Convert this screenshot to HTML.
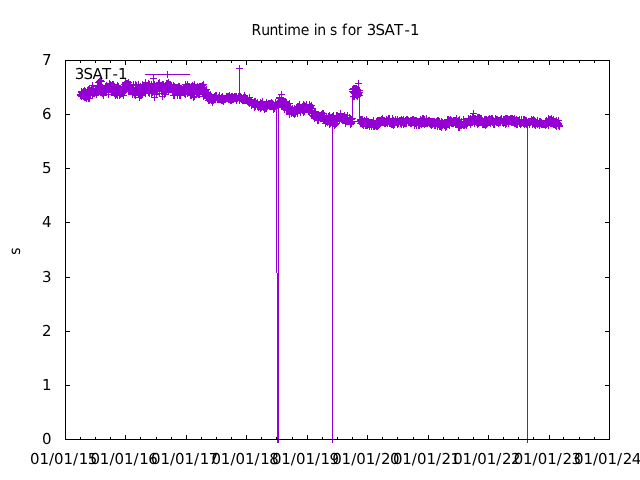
<!DOCTYPE html>
<html><head><meta charset="utf-8"><title>Runtime in s for 3SAT-1</title>
<style>html,body{margin:0;padding:0;background:#fff;overflow:hidden}svg{display:block}</style></head>
<body>
<svg width="640" height="480" viewBox="0 0 640 480">
<rect width="640" height="480" fill="#fff"/>
<g fill="none" stroke="#9400D3" stroke-width="1" shape-rendering="crispEdges">
<polyline points="80.5,95.5 80.5,94.5 80.5,94.5 81.5,92.5 81.5,95.5 81.5,96.5 81.5,91.5 82.5,92.5 82.5,93.5 82.5,95.5 82.5,93.5 83.5,91.5 83.5,96.5 83.5,91.5 83.5,96.5 83.5,94.5 84.5,90.5 84.5,97.5 84.5,91.5 84.5,90.5 85.5,97.5 85.5,91.5 85.5,96.5 85.5,95.5 85.5,93.5 86.5,92.5 86.5,98.5 86.5,94.5 86.5,97.5 87.5,96.5 87.5,96.5 87.5,90.5 87.5,92.5 88.5,91.5 88.5,93.5 88.5,89.5 88.5,89.5 88.5,98.5 89.5,98.5 89.5,89.5 89.5,93.5 89.5,95.5 90.5,90.5 90.5,90.5 90.5,92.5 90.5,94.5 91.5,92.5 91.5,92.5 91.5,91.5 91.5,91.5 91.5,88.5 92.5,95.5 92.5,85.5 92.5,92.5 92.5,94.5 93.5,93.5 93.5,90.5 93.5,91.5 93.5,89.5 93.5,89.5 94.5,91.5 94.5,92.5 94.5,93.5 94.5,93.5 95.5,89.5 95.5,91.5 95.5,92.5 95.5,92.5 96.5,89.5 96.5,88.5 96.5,89.5 96.5,91.5 96.5,94.5 97.5,89.5 97.5,89.5 97.5,92.5 97.5,86.5 98.5,90.5 98.5,92.5 98.5,92.5 98.5,88.5 98.5,82.5 99.5,88.5 99.5,89.5 99.5,81.5 99.5,89.5 100.5,90.5 100.5,91.5 100.5,80.5 100.5,90.5 101.5,88.5 101.5,92.5 101.5,81.5 101.5,85.5 101.5,87.5 102.5,93.5 102.5,93.5 102.5,87.5 102.5,90.5 103.5,89.5 103.5,95.5 103.5,92.5 103.5,94.5 104.5,90.5 104.5,89.5 104.5,88.5 104.5,89.5 104.5,88.5 105.5,91.5 105.5,86.5 105.5,88.5 105.5,90.5 106.5,90.5 106.5,88.5 106.5,85.5 106.5,87.5 106.5,89.5 107.5,86.5 107.5,89.5 107.5,88.5 107.5,89.5 108.5,94.5 108.5,88.5 108.5,92.5 108.5,86.5 109.5,83.5 109.5,85.5 109.5,89.5 109.5,86.5 109.5,86.5 110.5,89.5 110.5,87.5 110.5,84.5 110.5,85.5 111.5,88.5 111.5,92.5 111.5,85.5 111.5,91.5 112.5,85.5 112.5,84.5 112.5,89.5 112.5,91.5 112.5,90.5 113.5,84.5 113.5,89.5 113.5,85.5 113.5,90.5 114.5,86.5 114.5,93.5 114.5,86.5 114.5,92.5 114.5,89.5 115.5,91.5 115.5,94.5 115.5,95.5 115.5,89.5 116.5,94.5 116.5,91.5 116.5,90.5 116.5,92.5 117.5,95.5 117.5,85.5 117.5,89.5 117.5,86.5 117.5,88.5 118.5,89.5 118.5,86.5 118.5,88.5 118.5,88.5 119.5,95.5 119.5,89.5 119.5,91.5 119.5,88.5 120.5,88.5 120.5,94.5 120.5,89.5 120.5,91.5 120.5,93.5 121.5,89.5 121.5,90.5 121.5,93.5 121.5,91.5 122.5,92.5 122.5,90.5 122.5,87.5 122.5,92.5 122.5,93.5 123.5,95.5 123.5,92.5 123.5,88.5 123.5,90.5 124.5,91.5 124.5,88.5 124.5,84.5 124.5,87.5 125.5,83.5 125.5,88.5 125.5,88.5 125.5,82.5 125.5,85.5 126.5,89.5 126.5,86.5 126.5,83.5 126.5,89.5 127.5,86.5 127.5,85.5 127.5,83.5 127.5,86.5 128.5,86.5 128.5,91.5 128.5,89.5 128.5,82.5 128.5,89.5 129.5,91.5 129.5,90.5 129.5,84.5 129.5,86.5 130.5,89.5 130.5,88.5 130.5,90.5 130.5,91.5 130.5,84.5 131.5,89.5 131.5,91.5 131.5,90.5 131.5,88.5 132.5,94.5 132.5,87.5 132.5,89.5 132.5,90.5 133.5,89.5 133.5,90.5 133.5,84.5 133.5,88.5 133.5,91.5 134.5,93.5 134.5,92.5 134.5,90.5 134.5,94.5 135.5,94.5 135.5,88.5 135.5,95.5 135.5,90.5 135.5,84.5 136.5,89.5 136.5,89.5 136.5,89.5 136.5,85.5 137.5,92.5 137.5,87.5 137.5,90.5 137.5,88.5 138.5,94.5 138.5,91.5 138.5,84.5 138.5,88.5 138.5,94.5 139.5,90.5 139.5,92.5 139.5,88.5 139.5,97.5 140.5,95.5 140.5,86.5 140.5,88.5 140.5,87.5 141.5,88.5 141.5,90.5 141.5,89.5 141.5,90.5 141.5,95.5 142.5,84.5 142.5,92.5 142.5,93.5 142.5,88.5 143.5,89.5 143.5,91.5 143.5,91.5 143.5,88.5 143.5,88.5 144.5,91.5 144.5,87.5 144.5,92.5 144.5,87.5 145.5,93.5 145.5,82.5 145.5,88.5 145.5,83.5 146.5,86.5 146.5,86.5 146.5,86.5 146.5,87.5 146.5,89.5 147.5,89.5 147.5,88.5 147.5,90.5 147.5,86.5 148.5,83.5 148.5,87.5 148.5,92.5 148.5,90.5 149.5,84.5 149.5,86.5 149.5,93.5 149.5,86.5 149.5,87.5 150.5,87.5 150.5,90.5 150.5,89.5 150.5,86.5 151.5,90.5 151.5,90.5 151.5,91.5 151.5,84.5 151.5,93.5 152.5,91.5 152.5,92.5 152.5,92.5 152.5,86.5 153.5,89.5 153.5,91.5 153.5,78.5 153.5,84.5 154.5,84.5 154.5,97.5 154.5,89.5 154.5,88.5 154.5,86.5 155.5,88.5 155.5,88.5 155.5,90.5 155.5,89.5 156.5,94.5 156.5,90.5 156.5,88.5 156.5,90.5 157.5,86.5 157.5,85.5 157.5,89.5 157.5,89.5 157.5,86.5 158.5,86.5 158.5,88.5 158.5,84.5 158.5,83.5 159.5,87.5 159.5,93.5 159.5,84.5 159.5,89.5 159.5,82.5 160.5,87.5 160.5,85.5 160.5,86.5 160.5,85.5 161.5,86.5 161.5,88.5 161.5,91.5 161.5,86.5 162.5,84.5 162.5,87.5 162.5,96.5 162.5,89.5 162.5,86.5 163.5,91.5 163.5,84.5 163.5,84.5 163.5,88.5 164.5,86.5 164.5,94.5 164.5,94.5 164.5,86.5 165.5,86.5 165.5,92.5 165.5,89.5 165.5,88.5 165.5,89.5 166.5,90.5 166.5,88.5 166.5,83.5 166.5,89.5 167.5,86.5 167.5,87.5 167.5,86.5 167.5,89.5 167.5,83.5 168.5,86.5 168.5,91.5 168.5,82.5 168.5,88.5 169.5,88.5 169.5,87.5 169.5,84.5 169.5,86.5 170.5,87.5 170.5,86.5 170.5,84.5 170.5,87.5 170.5,84.5 171.5,89.5 171.5,86.5 171.5,86.5 171.5,88.5 172.5,90.5 172.5,92.5 172.5,92.5 172.5,92.5 172.5,89.5 173.5,85.5 173.5,91.5 173.5,91.5 173.5,95.5 174.5,95.5 174.5,88.5 174.5,88.5 174.5,86.5 175.5,87.5 175.5,91.5 175.5,89.5 175.5,87.5 175.5,91.5 176.5,92.5 176.5,87.5 176.5,90.5 176.5,88.5 177.5,95.5 177.5,87.5 177.5,93.5 177.5,90.5 178.5,90.5 178.5,92.5 178.5,86.5 178.5,88.5 178.5,90.5 179.5,93.5 179.5,92.5 179.5,86.5 179.5,95.5 180.5,95.5 180.5,91.5 180.5,88.5 180.5,91.5 180.5,92.5 181.5,92.5 181.5,90.5 181.5,90.5 181.5,88.5 182.5,91.5 182.5,90.5 182.5,91.5 182.5,89.5 183.5,91.5 183.5,89.5 183.5,89.5 183.5,88.5 183.5,90.5 184.5,87.5 184.5,93.5 184.5,89.5 184.5,93.5 185.5,94.5 185.5,87.5 185.5,87.5 185.5,84.5 186.5,86.5 186.5,87.5 186.5,86.5 186.5,90.5 186.5,89.5 187.5,93.5 187.5,89.5 187.5,84.5 187.5,91.5 188.5,87.5 188.5,86.5 188.5,88.5 188.5,92.5 188.5,87.5 189.5,90.5 189.5,86.5 189.5,88.5 189.5,90.5 190.5,95.5 190.5,90.5 190.5,90.5 190.5,91.5 191.5,95.5 191.5,87.5 191.5,90.5 191.5,88.5 191.5,86.5 192.5,94.5 192.5,91.5 192.5,90.5 192.5,85.5 193.5,86.5 193.5,97.5 193.5,88.5 193.5,89.5 194.5,96.5 194.5,93.5 194.5,84.5 194.5,90.5 194.5,88.5 195.5,90.5 195.5,88.5 195.5,91.5 195.5,91.5 196.5,87.5 196.5,91.5 196.5,91.5 196.5,94.5 196.5,93.5 197.5,91.5 197.5,86.5 197.5,93.5 197.5,93.5 198.5,87.5 198.5,89.5 198.5,88.5 198.5,94.5 199.5,93.5 199.5,86.5 199.5,89.5 199.5,94.5 199.5,90.5 200.5,91.5 200.5,91.5 200.5,86.5 200.5,86.5 201.5,86.5 201.5,90.5 201.5,89.5 201.5,88.5 202.5,87.5 202.5,88.5 202.5,85.5 202.5,90.5 202.5,93.5 203.5,89.5 203.5,87.5 203.5,84.5 203.5,96.5 204.5,92.5 204.5,91.5 204.5,91.5 204.5,89.5 204.5,90.5 205.5,90.5 205.5,95.5 205.5,94.5 205.5,94.5 206.5,92.5 206.5,93.5 206.5,89.5 206.5,97.5 207.5,96.5 207.5,94.5 207.5,96.5 207.5,98.5 207.5,98.5 208.5,93.5 208.5,95.5 208.5,95.5 208.5,100.5 209.5,97.5 209.5,96.5 209.5,97.5 209.5,95.5 209.5,100.5 210.5,94.5 210.5,98.5 210.5,96.5 210.5,95.5 211.5,99.5 211.5,100.5 211.5,99.5 211.5,97.5 212.5,97.5 212.5,102.5 212.5,97.5 212.5,99.5 212.5,99.5 213.5,100.5 213.5,98.5 213.5,99.5 213.5,100.5 214.5,98.5 214.5,96.5 214.5,97.5 214.5,97.5 215.5,95.5 215.5,99.5 215.5,98.5 215.5,96.5 215.5,99.5 216.5,97.5 216.5,96.5 216.5,95.5 216.5,97.5 217.5,98.5 217.5,98.5 217.5,99.5 217.5,98.5 217.5,98.5 218.5,99.5 218.5,97.5 218.5,97.5 218.5,99.5 219.5,98.5 219.5,95.5 219.5,99.5 219.5,96.5 220.5,99.5 220.5,98.5 220.5,98.5 220.5,98.5 220.5,99.5 221.5,97.5 221.5,98.5 221.5,99.5 221.5,100.5 222.5,100.5 222.5,96.5 222.5,100.5 222.5,98.5 223.5,98.5 223.5,100.5 223.5,98.5 223.5,101.5 223.5,100.5 224.5,98.5 224.5,98.5 224.5,99.5 224.5,99.5 225.5,99.5 225.5,98.5 225.5,98.5 225.5,98.5 225.5,98.5 226.5,96.5 226.5,97.5 226.5,96.5 226.5,96.5 227.5,96.5 227.5,98.5 227.5,96.5 227.5,98.5 228.5,96.5 228.5,99.5 228.5,96.5 228.5,97.5 228.5,97.5 229.5,99.5 229.5,99.5 229.5,95.5 229.5,98.5 230.5,97.5 230.5,98.5 230.5,99.5 230.5,100.5 231.5,100.5 231.5,96.5 231.5,100.5 231.5,96.5 231.5,100.5 232.5,99.5 232.5,98.5 232.5,96.5 232.5,98.5 233.5,98.5 233.5,97.5 233.5,99.5 233.5,98.5 233.5,98.5 234.5,97.5 234.5,96.5 234.5,96.5 234.5,98.5 235.5,98.5 235.5,98.5 235.5,97.5 235.5,96.5 236.5,98.5 236.5,96.5 236.5,100.5 236.5,98.5 236.5,98.5 237.5,98.5 237.5,98.5 237.5,98.5 237.5,98.5 238.5,96.5 238.5,97.5 238.5,97.5 238.5,97.5 239.5,100.5 239.5,100.5 239.5,68.5 239.5,99.5 239.5,95.5 240.5,98.5 240.5,98.5 240.5,96.5 240.5,96.5 241.5,99.5 241.5,99.5 241.5,97.5 241.5,99.5 241.5,97.5 242.5,100.5 242.5,98.5 242.5,98.5 242.5,99.5 243.5,99.5 243.5,97.5 243.5,100.5 243.5,97.5 244.5,100.5 244.5,99.5 244.5,95.5 244.5,99.5 244.5,99.5 245.5,100.5 245.5,100.5 245.5,97.5 245.5,98.5 246.5,99.5 246.5,100.5 246.5,99.5 246.5,98.5 246.5,99.5 247.5,100.5 247.5,101.5 247.5,99.5 247.5,99.5 248.5,100.5 248.5,101.5 248.5,100.5 248.5,102.5 249.5,97.5 249.5,99.5 249.5,101.5 249.5,103.5 249.5,101.5 250.5,100.5 250.5,101.5 250.5,101.5 250.5,100.5 251.5,101.5 251.5,105.5 251.5,103.5 251.5,105.5 252.5,104.5 252.5,104.5 252.5,102.5 252.5,104.5 252.5,102.5 253.5,102.5 253.5,103.5 253.5,104.5 253.5,102.5 254.5,107.5 254.5,102.5 254.5,104.5 254.5,104.5 254.5,101.5 255.5,101.5 255.5,101.5 255.5,106.5 255.5,104.5 256.5,104.5 256.5,103.5 256.5,104.5 256.5,104.5 257.5,103.5 257.5,104.5 257.5,104.5 257.5,106.5 257.5,102.5 258.5,104.5 258.5,105.5 258.5,107.5 258.5,106.5 259.5,106.5 259.5,104.5 259.5,104.5 259.5,104.5 260.5,106.5 260.5,102.5 260.5,106.5 260.5,108.5 260.5,107.5 261.5,107.5 261.5,103.5 261.5,103.5 261.5,107.5 262.5,104.5 262.5,104.5 262.5,101.5 262.5,103.5 262.5,105.5 263.5,107.5 263.5,104.5 263.5,104.5 263.5,105.5 264.5,109.5 264.5,105.5 264.5,108.5 264.5,106.5 265.5,105.5 265.5,105.5 265.5,107.5 265.5,108.5 265.5,104.5 266.5,107.5 266.5,102.5 266.5,104.5 266.5,108.5 267.5,104.5 267.5,104.5 267.5,105.5 267.5,104.5 268.5,105.5 268.5,105.5 268.5,105.5 268.5,104.5 268.5,103.5 269.5,106.5 269.5,105.5 269.5,104.5 269.5,103.5 270.5,103.5 270.5,105.5 270.5,105.5 270.5,103.5 270.5,104.5 271.5,102.5 271.5,106.5 271.5,105.5 271.5,103.5 272.5,103.5 272.5,103.5 272.5,103.5 272.5,105.5 273.5,109.5 273.5,104.5 273.5,104.5 273.5,108.5 273.5,108.5 274.5,108.5 274.5,105.5 274.5,106.5 274.5,106.5 275.5,106.5 275.5,106.5 275.5,104.5 275.5,102.5 276.5,107.5 276.5,272.5 277.5,273.5 277.5,439.5 278.5,439.5 278.5,104.5 279.5,103.5 279.5,101.5 279.5,98.5 279.5,97.5 280.5,100.5 280.5,104.5 280.5,100.5 280.5,104.5 281.5,98.5 281.5,99.5 281.5,94.5 281.5,106.5 281.5,98.5 282.5,104.5 282.5,104.5 282.5,105.5 282.5,106.5 283.5,103.5 283.5,101.5 283.5,101.5 283.5,100.5 283.5,105.5 284.5,103.5 284.5,101.5 284.5,106.5 284.5,109.5 285.5,103.5 285.5,105.5 285.5,106.5 285.5,101.5 286.5,109.5 286.5,102.5 286.5,104.5 286.5,110.5 286.5,106.5 287.5,104.5 287.5,106.5 287.5,108.5 287.5,110.5 288.5,106.5 288.5,107.5 288.5,106.5 288.5,109.5 289.5,108.5 289.5,103.5 289.5,106.5 289.5,106.5 289.5,114.5 290.5,108.5 290.5,110.5 290.5,109.5 290.5,108.5 291.5,110.5 291.5,113.5 291.5,113.5 291.5,110.5 291.5,110.5 292.5,112.5 292.5,108.5 292.5,112.5 292.5,112.5 293.5,112.5 293.5,111.5 293.5,112.5 293.5,113.5 294.5,110.5 294.5,109.5 294.5,112.5 294.5,108.5 294.5,114.5 295.5,113.5 295.5,113.5 295.5,111.5 295.5,110.5 296.5,109.5 296.5,109.5 296.5,107.5 296.5,110.5 297.5,112.5 297.5,108.5 297.5,106.5 297.5,110.5 297.5,113.5 298.5,109.5 298.5,106.5 298.5,110.5 298.5,106.5 299.5,110.5 299.5,109.5 299.5,109.5 299.5,104.5 299.5,107.5 300.5,112.5 300.5,107.5 300.5,110.5 300.5,109.5 301.5,109.5 301.5,107.5 301.5,107.5 301.5,108.5 302.5,110.5 302.5,107.5 302.5,107.5 302.5,106.5 302.5,109.5 303.5,104.5 303.5,111.5 303.5,109.5 303.5,112.5 304.5,111.5 304.5,105.5 304.5,108.5 304.5,109.5 305.5,109.5 305.5,109.5 305.5,108.5 305.5,106.5 305.5,107.5 306.5,104.5 306.5,108.5 306.5,108.5 306.5,106.5 307.5,108.5 307.5,107.5 307.5,108.5 307.5,109.5 307.5,109.5 308.5,111.5 308.5,110.5 308.5,109.5 308.5,109.5 309.5,112.5 309.5,104.5 309.5,109.5 309.5,108.5 310.5,106.5 310.5,108.5 310.5,107.5 310.5,110.5 310.5,106.5 311.5,110.5 311.5,111.5 311.5,105.5 311.5,108.5 312.5,110.5 312.5,111.5 312.5,113.5 312.5,111.5 313.5,115.5 313.5,115.5 313.5,115.5 313.5,116.5 313.5,116.5 314.5,115.5 314.5,112.5 314.5,118.5 314.5,117.5 315.5,112.5 315.5,111.5 315.5,114.5 315.5,117.5 315.5,117.5 316.5,116.5 316.5,117.5 316.5,116.5 316.5,117.5 317.5,114.5 317.5,115.5 317.5,120.5 317.5,115.5 318.5,120.5 318.5,116.5 318.5,118.5 318.5,115.5 318.5,114.5 319.5,115.5 319.5,116.5 319.5,116.5 319.5,115.5 320.5,116.5 320.5,118.5 320.5,118.5 320.5,118.5 320.5,115.5 321.5,117.5 321.5,118.5 321.5,117.5 321.5,114.5 322.5,116.5 322.5,113.5 322.5,118.5 322.5,117.5 323.5,119.5 323.5,117.5 323.5,115.5 323.5,116.5 323.5,113.5 324.5,117.5 324.5,117.5 324.5,120.5 324.5,115.5 325.5,118.5 325.5,118.5 325.5,123.5 325.5,119.5 326.5,120.5 326.5,119.5 326.5,121.5 326.5,119.5 326.5,116.5 327.5,122.5 327.5,120.5 327.5,120.5 327.5,122.5 328.5,116.5 328.5,117.5 328.5,118.5 328.5,118.5 328.5,120.5 329.5,117.5 329.5,115.5 329.5,118.5 329.5,124.5 330.5,123.5 330.5,117.5 330.5,123.5 330.5,117.5 331.5,121.5 331.5,117.5 331.5,119.5 331.5,121.5 331.5,118.5 332.5,118.5 332.5,439.5 332.5,116.5 332.5,120.5 333.5,123.5 333.5,118.5 333.5,119.5 333.5,115.5 334.5,123.5 334.5,118.5 334.5,123.5 334.5,125.5 334.5,119.5 335.5,121.5 335.5,118.5 335.5,121.5 335.5,124.5 336.5,118.5 336.5,123.5 336.5,115.5 336.5,120.5 336.5,116.5 337.5,119.5 337.5,115.5 337.5,117.5 337.5,116.5 338.5,117.5 338.5,116.5 338.5,117.5 338.5,116.5 339.5,117.5 339.5,120.5 339.5,118.5 339.5,116.5 339.5,118.5 340.5,113.5 340.5,117.5 340.5,118.5 340.5,118.5 341.5,119.5 341.5,116.5 341.5,116.5 341.5,116.5 342.5,119.5 342.5,119.5 342.5,117.5 342.5,120.5 342.5,117.5 343.5,117.5 343.5,119.5 343.5,120.5 343.5,118.5 344.5,119.5 344.5,115.5 344.5,115.5 344.5,120.5 344.5,116.5 345.5,123.5 345.5,122.5 345.5,118.5 345.5,117.5 346.5,121.5 346.5,118.5 346.5,117.5 346.5,121.5 347.5,119.5 347.5,121.5 347.5,115.5 347.5,121.5 347.5,118.5 348.5,120.5 348.5,120.5 348.5,121.5 348.5,121.5 349.5,117.5 349.5,119.5 349.5,121.5 349.5,119.5 350.5,122.5 350.5,118.5 350.5,122.5 350.5,124.5 350.5,121.5 351.5,123.5 351.5,122.5 351.5,119.5 351.5,123.5 352.5,118.5 352.5,121.5 352.5,91.5 352.5,89.5 352.5,91.5 353.5,88.5 353.5,96.5 353.5,96.5 353.5,92.5 354.5,88.5 354.5,89.5 354.5,96.5 354.5,93.5 355.5,93.5 355.5,94.5 355.5,92.5 355.5,88.5 355.5,90.5 356.5,95.5 356.5,90.5 356.5,94.5 356.5,88.5 357.5,89.5 357.5,95.5 357.5,94.5 357.5,96.5 357.5,91.5 358.5,94.5 358.5,83.5 358.5,93.5 358.5,90.5 359.5,92.5 359.5,90.5 359.5,95.5 359.5,121.5 360.5,123.5 360.5,119.5 360.5,123.5 360.5,120.5 360.5,123.5 361.5,119.5 361.5,121.5 361.5,122.5 361.5,123.5 362.5,119.5 362.5,124.5 362.5,122.5 362.5,121.5 363.5,125.5 363.5,122.5 363.5,125.5 363.5,121.5 363.5,121.5 364.5,123.5 364.5,120.5 364.5,122.5 364.5,123.5 365.5,125.5 365.5,123.5 365.5,121.5 365.5,123.5 365.5,122.5 366.5,119.5 366.5,125.5 366.5,124.5 366.5,125.5 367.5,121.5 367.5,125.5 367.5,124.5 367.5,124.5 368.5,123.5 368.5,122.5 368.5,124.5 368.5,121.5 368.5,123.5 369.5,126.5 369.5,124.5 369.5,123.5 369.5,123.5 370.5,122.5 370.5,124.5 370.5,122.5 370.5,124.5 371.5,126.5 371.5,122.5 371.5,125.5 371.5,122.5 371.5,122.5 372.5,123.5 372.5,124.5 372.5,122.5 372.5,123.5 373.5,122.5 373.5,126.5 373.5,120.5 373.5,124.5 373.5,121.5 374.5,125.5 374.5,124.5 374.5,126.5 374.5,123.5 375.5,124.5 375.5,124.5 375.5,125.5 375.5,123.5 376.5,123.5 376.5,124.5 376.5,123.5 376.5,126.5 376.5,121.5 377.5,123.5 377.5,124.5 377.5,126.5 377.5,120.5 378.5,125.5 378.5,123.5 378.5,122.5 378.5,120.5 379.5,124.5 379.5,123.5 379.5,123.5 379.5,121.5 379.5,120.5 380.5,122.5 380.5,120.5 380.5,120.5 380.5,121.5 381.5,120.5 381.5,119.5 381.5,122.5 381.5,121.5 381.5,122.5 382.5,118.5 382.5,122.5 382.5,119.5 382.5,120.5 383.5,120.5 383.5,122.5 383.5,121.5 383.5,121.5 384.5,121.5 384.5,120.5 384.5,122.5 384.5,123.5 384.5,121.5 385.5,122.5 385.5,121.5 385.5,123.5 385.5,122.5 386.5,120.5 386.5,121.5 386.5,119.5 386.5,122.5 387.5,121.5 387.5,122.5 387.5,123.5 387.5,122.5 387.5,120.5 388.5,121.5 388.5,121.5 388.5,120.5 388.5,118.5 389.5,118.5 389.5,118.5 389.5,123.5 389.5,119.5 389.5,121.5 390.5,123.5 390.5,121.5 390.5,122.5 390.5,123.5 391.5,124.5 391.5,121.5 391.5,122.5 391.5,122.5 392.5,123.5 392.5,124.5 392.5,119.5 392.5,118.5 392.5,120.5 393.5,123.5 393.5,125.5 393.5,121.5 393.5,120.5 394.5,121.5 394.5,121.5 394.5,123.5 394.5,124.5 394.5,121.5 395.5,121.5 395.5,119.5 395.5,120.5 395.5,121.5 396.5,122.5 396.5,121.5 396.5,121.5 396.5,121.5 397.5,120.5 397.5,123.5 397.5,120.5 397.5,119.5 397.5,124.5 398.5,122.5 398.5,122.5 398.5,123.5 398.5,121.5 399.5,120.5 399.5,121.5 399.5,121.5 399.5,121.5 400.5,122.5 400.5,121.5 400.5,120.5 400.5,123.5 400.5,123.5 401.5,119.5 401.5,124.5 401.5,122.5 401.5,123.5 402.5,120.5 402.5,121.5 402.5,122.5 402.5,122.5 402.5,120.5 403.5,119.5 403.5,121.5 403.5,123.5 403.5,124.5 404.5,121.5 404.5,121.5 404.5,123.5 404.5,121.5 405.5,122.5 405.5,120.5 405.5,121.5 405.5,120.5 405.5,123.5 406.5,123.5 406.5,122.5 406.5,119.5 406.5,122.5 407.5,120.5 407.5,119.5 407.5,120.5 407.5,120.5 408.5,122.5 408.5,122.5 408.5,121.5 408.5,121.5 408.5,120.5 409.5,122.5 409.5,122.5 409.5,122.5 409.5,121.5 410.5,120.5 410.5,122.5 410.5,120.5 410.5,123.5 410.5,121.5 411.5,122.5 411.5,120.5 411.5,123.5 411.5,123.5 412.5,121.5 412.5,121.5 412.5,119.5 412.5,121.5 413.5,120.5 413.5,119.5 413.5,121.5 413.5,122.5 413.5,121.5 414.5,123.5 414.5,121.5 414.5,120.5 414.5,125.5 415.5,123.5 415.5,120.5 415.5,122.5 415.5,120.5 416.5,120.5 416.5,120.5 416.5,120.5 416.5,125.5 416.5,122.5 417.5,121.5 417.5,122.5 417.5,122.5 417.5,122.5 418.5,123.5 418.5,125.5 418.5,122.5 418.5,121.5 418.5,121.5 419.5,124.5 419.5,122.5 419.5,125.5 419.5,121.5 420.5,121.5 420.5,119.5 420.5,121.5 420.5,123.5 421.5,120.5 421.5,121.5 421.5,123.5 421.5,124.5 421.5,123.5 422.5,123.5 422.5,123.5 422.5,118.5 422.5,122.5 423.5,118.5 423.5,120.5 423.5,123.5 423.5,119.5 424.5,120.5 424.5,121.5 424.5,124.5 424.5,123.5 424.5,119.5 425.5,122.5 425.5,123.5 425.5,121.5 425.5,121.5 426.5,123.5 426.5,118.5 426.5,119.5 426.5,122.5 426.5,122.5 427.5,122.5 427.5,121.5 427.5,123.5 427.5,123.5 428.5,121.5 428.5,122.5 428.5,122.5 428.5,120.5 429.5,123.5 429.5,122.5 429.5,120.5 429.5,122.5 429.5,120.5 430.5,122.5 430.5,124.5 430.5,122.5 430.5,121.5 431.5,122.5 431.5,123.5 431.5,125.5 431.5,121.5 431.5,123.5 432.5,124.5 432.5,122.5 432.5,121.5 432.5,123.5 433.5,121.5 433.5,123.5 433.5,121.5 433.5,123.5 434.5,121.5 434.5,121.5 434.5,125.5 434.5,122.5 434.5,123.5 435.5,122.5 435.5,124.5 435.5,125.5 435.5,123.5 436.5,121.5 436.5,123.5 436.5,123.5 436.5,123.5 437.5,122.5 437.5,120.5 437.5,122.5 437.5,122.5 437.5,126.5 438.5,124.5 438.5,121.5 438.5,120.5 438.5,122.5 439.5,121.5 439.5,122.5 439.5,121.5 439.5,123.5 439.5,126.5 440.5,126.5 440.5,123.5 440.5,123.5 440.5,124.5 441.5,127.5 441.5,122.5 441.5,121.5 441.5,121.5 442.5,124.5 442.5,125.5 442.5,122.5 442.5,122.5 442.5,123.5 443.5,124.5 443.5,123.5 443.5,124.5 443.5,123.5 444.5,123.5 444.5,125.5 444.5,124.5 444.5,122.5 445.5,122.5 445.5,123.5 445.5,122.5 445.5,127.5 445.5,126.5 446.5,123.5 446.5,125.5 446.5,125.5 446.5,126.5 447.5,119.5 447.5,124.5 447.5,120.5 447.5,124.5 447.5,121.5 448.5,119.5 448.5,121.5 448.5,119.5 448.5,122.5 449.5,125.5 449.5,123.5 449.5,120.5 449.5,122.5 450.5,120.5 450.5,119.5 450.5,122.5 450.5,120.5 450.5,120.5 451.5,121.5 451.5,123.5 451.5,121.5 451.5,120.5 452.5,121.5 452.5,123.5 452.5,122.5 452.5,123.5 453.5,121.5 453.5,121.5 453.5,122.5 453.5,120.5 453.5,123.5 454.5,122.5 454.5,122.5 454.5,121.5 454.5,120.5 455.5,121.5 455.5,122.5 455.5,121.5 455.5,124.5 455.5,120.5 456.5,124.5 456.5,118.5 456.5,122.5 456.5,121.5 457.5,121.5 457.5,123.5 457.5,122.5 457.5,124.5 458.5,127.5 458.5,120.5 458.5,123.5 458.5,121.5 458.5,121.5 459.5,127.5 459.5,119.5 459.5,124.5 459.5,123.5 460.5,122.5 460.5,122.5 460.5,123.5 460.5,125.5 461.5,123.5 461.5,121.5 461.5,122.5 461.5,125.5 461.5,123.5 462.5,124.5 462.5,124.5 462.5,124.5 462.5,124.5 463.5,121.5 463.5,125.5 463.5,122.5 463.5,119.5 463.5,122.5 464.5,125.5 464.5,124.5 464.5,123.5 464.5,121.5 465.5,124.5 465.5,124.5 465.5,123.5 465.5,123.5 466.5,124.5 466.5,123.5 466.5,125.5 466.5,121.5 466.5,121.5 467.5,123.5 467.5,123.5 467.5,122.5 467.5,121.5 468.5,120.5 468.5,121.5 468.5,122.5 468.5,118.5 468.5,119.5 469.5,121.5 469.5,121.5 469.5,120.5 469.5,119.5 470.5,124.5 470.5,118.5 470.5,120.5 470.5,120.5 471.5,119.5 471.5,122.5 471.5,119.5 471.5,120.5 471.5,119.5 472.5,122.5 472.5,122.5 472.5,118.5 472.5,117.5 473.5,120.5 473.5,119.5 473.5,113.5 473.5,119.5 474.5,118.5 474.5,119.5 474.5,118.5 474.5,123.5 474.5,118.5 475.5,118.5 475.5,119.5 475.5,120.5 475.5,121.5 476.5,119.5 476.5,122.5 476.5,120.5 476.5,119.5 476.5,119.5 477.5,117.5 477.5,122.5 477.5,120.5 477.5,124.5 478.5,117.5 478.5,123.5 478.5,119.5 478.5,121.5 479.5,121.5 479.5,118.5 479.5,117.5 479.5,118.5 479.5,122.5 480.5,122.5 480.5,118.5 480.5,122.5 480.5,120.5 481.5,122.5 481.5,120.5 481.5,118.5 481.5,119.5 482.5,122.5 482.5,121.5 482.5,120.5 482.5,124.5 482.5,122.5 483.5,124.5 483.5,122.5 483.5,123.5 483.5,124.5 484.5,119.5 484.5,124.5 484.5,121.5 484.5,123.5 484.5,122.5 485.5,119.5 485.5,122.5 485.5,121.5 485.5,125.5 486.5,124.5 486.5,119.5 486.5,122.5 486.5,124.5 487.5,120.5 487.5,120.5 487.5,122.5 487.5,121.5 487.5,123.5 488.5,120.5 488.5,119.5 488.5,120.5 488.5,122.5 489.5,118.5 489.5,121.5 489.5,121.5 489.5,122.5 490.5,122.5 490.5,121.5 490.5,121.5 490.5,119.5 490.5,123.5 491.5,121.5 491.5,119.5 491.5,118.5 491.5,119.5 492.5,121.5 492.5,122.5 492.5,120.5 492.5,118.5 492.5,121.5 493.5,120.5 493.5,124.5 493.5,121.5 493.5,122.5 494.5,124.5 494.5,122.5 494.5,122.5 494.5,122.5 495.5,120.5 495.5,120.5 495.5,118.5 495.5,118.5 495.5,119.5 496.5,120.5 496.5,119.5 496.5,121.5 496.5,122.5 497.5,119.5 497.5,121.5 497.5,120.5 497.5,122.5 498.5,123.5 498.5,120.5 498.5,121.5 498.5,122.5 498.5,122.5 499.5,120.5 499.5,121.5 499.5,121.5 499.5,122.5 500.5,119.5 500.5,121.5 500.5,120.5 500.5,122.5 500.5,122.5 501.5,120.5 501.5,119.5 501.5,119.5 501.5,118.5 502.5,122.5 502.5,121.5 502.5,121.5 502.5,121.5 503.5,119.5 503.5,121.5 503.5,123.5 503.5,120.5 503.5,122.5 504.5,122.5 504.5,122.5 504.5,120.5 504.5,119.5 505.5,120.5 505.5,122.5 505.5,124.5 505.5,118.5 505.5,118.5 506.5,120.5 506.5,118.5 506.5,118.5 506.5,123.5 507.5,120.5 507.5,120.5 507.5,121.5 507.5,118.5 508.5,123.5 508.5,121.5 508.5,122.5 508.5,119.5 508.5,120.5 509.5,121.5 509.5,119.5 509.5,120.5 509.5,119.5 510.5,121.5 510.5,121.5 510.5,121.5 510.5,118.5 511.5,118.5 511.5,120.5 511.5,122.5 511.5,120.5 511.5,119.5 512.5,119.5 512.5,122.5 512.5,120.5 512.5,118.5 513.5,121.5 513.5,120.5 513.5,119.5 513.5,122.5 513.5,119.5 514.5,118.5 514.5,122.5 514.5,120.5 514.5,123.5 515.5,123.5 515.5,123.5 515.5,120.5 515.5,120.5 516.5,119.5 516.5,122.5 516.5,124.5 516.5,122.5 516.5,122.5 517.5,123.5 517.5,120.5 517.5,121.5 517.5,124.5 518.5,121.5 518.5,121.5 518.5,121.5 518.5,120.5 519.5,119.5 519.5,123.5 519.5,121.5 519.5,120.5 519.5,119.5 520.5,124.5 520.5,123.5 520.5,122.5 520.5,122.5 521.5,122.5 521.5,120.5 521.5,119.5 521.5,123.5 521.5,120.5 522.5,122.5 522.5,122.5 522.5,122.5 522.5,122.5 523.5,121.5 523.5,123.5 523.5,123.5 523.5,119.5 524.5,124.5 524.5,120.5 524.5,119.5 524.5,121.5 524.5,123.5 525.5,121.5 525.5,121.5 525.5,123.5 525.5,120.5 526.5,120.5 526.5,124.5 526.5,122.5 526.5,123.5 527.5,123.5 527.5,122.5 527.5,439.5 527.5,122.5 527.5,125.5 528.5,121.5 528.5,122.5 528.5,122.5 528.5,122.5 529.5,123.5 529.5,122.5 529.5,124.5 529.5,121.5 529.5,124.5 530.5,122.5 530.5,121.5 530.5,121.5 530.5,122.5 531.5,121.5 531.5,119.5 531.5,121.5 531.5,120.5 532.5,121.5 532.5,120.5 532.5,124.5 532.5,122.5 532.5,123.5 533.5,123.5 533.5,121.5 533.5,119.5 533.5,123.5 534.5,121.5 534.5,121.5 534.5,124.5 534.5,120.5 535.5,121.5 535.5,122.5 535.5,122.5 535.5,122.5 535.5,125.5 536.5,123.5 536.5,123.5 536.5,122.5 536.5,123.5 537.5,121.5 537.5,120.5 537.5,121.5 537.5,124.5 537.5,124.5 538.5,123.5 538.5,123.5 538.5,123.5 538.5,123.5 539.5,125.5 539.5,121.5 539.5,123.5 539.5,122.5 540.5,121.5 540.5,123.5 540.5,122.5 540.5,123.5 540.5,122.5 541.5,122.5 541.5,123.5 541.5,123.5 541.5,124.5 542.5,124.5 542.5,124.5 542.5,123.5 542.5,123.5 542.5,123.5 543.5,123.5 543.5,124.5 543.5,124.5 543.5,124.5 544.5,124.5 544.5,123.5 544.5,123.5 544.5,124.5 545.5,124.5 545.5,125.5 545.5,122.5 545.5,122.5 545.5,122.5 546.5,123.5 546.5,120.5 546.5,122.5 546.5,124.5 547.5,123.5 547.5,123.5 547.5,123.5 547.5,121.5 548.5,121.5 548.5,119.5 548.5,125.5 548.5,122.5 548.5,118.5 549.5,120.5 549.5,119.5 549.5,121.5 549.5,119.5 550.5,119.5 550.5,123.5 550.5,120.5 550.5,122.5 550.5,119.5 551.5,118.5 551.5,119.5 551.5,123.5 551.5,123.5 552.5,123.5 552.5,123.5 552.5,120.5 552.5,123.5 553.5,123.5 553.5,124.5 553.5,124.5 553.5,119.5 553.5,123.5 554.5,121.5 554.5,123.5 554.5,124.5 554.5,123.5 555.5,121.5 555.5,122.5 555.5,125.5 555.5,122.5 556.5,122.5 556.5,124.5 556.5,126.5 556.5,121.5 556.5,120.5 557.5,123.5 557.5,122.5 557.5,123.5 557.5,123.5 558.5,125.5 558.5,123.5 558.5,123.5 558.5,120.5 558.5,124.5 559.5,125.5 559.5,125.5 559.5,125.5 559.5,126.5"/>
<path d="M77 95.5h7M80.5 92v7M77 94.5h7M80.5 91v7M78 92.5h7M81.5 89v7M78 95.5h7M81.5 92v7M78 96.5h7M81.5 93v7M78 91.5h7M81.5 88v7M79 92.5h7M82.5 89v7M79 93.5h7M82.5 90v7M79 95.5h7M82.5 92v7M80 91.5h7M83.5 88v7M80 96.5h7M83.5 93v7M80 94.5h7M83.5 91v7M81 90.5h7M84.5 87v7M81 97.5h7M84.5 94v7M81 91.5h7M84.5 88v7M82 97.5h7M85.5 94v7M82 91.5h7M85.5 88v7M82 96.5h7M85.5 93v7M82 95.5h7M85.5 92v7M82 93.5h7M85.5 90v7M83 92.5h7M86.5 89v7M83 98.5h7M86.5 95v7M83 94.5h7M86.5 91v7M83 97.5h7M86.5 94v7M84 96.5h7M87.5 93v7M84 90.5h7M87.5 87v7M84 92.5h7M87.5 89v7M85 91.5h7M88.5 88v7M85 93.5h7M88.5 90v7M85 89.5h7M88.5 86v7M85 98.5h7M88.5 95v7M86 98.5h7M89.5 95v7M86 89.5h7M89.5 86v7M86 93.5h7M89.5 90v7M86 95.5h7M89.5 92v7M87 90.5h7M90.5 87v7M87 92.5h7M90.5 89v7M87 94.5h7M90.5 91v7M88 92.5h7M91.5 89v7M88 91.5h7M91.5 88v7M88 88.5h7M91.5 85v7M89 95.5h7M92.5 92v7M89 85.5h7M92.5 82v7M89 92.5h7M92.5 89v7M89 94.5h7M92.5 91v7M90 93.5h7M93.5 90v7M90 90.5h7M93.5 87v7M90 91.5h7M93.5 88v7M90 89.5h7M93.5 86v7M91 91.5h7M94.5 88v7M91 92.5h7M94.5 89v7M91 93.5h7M94.5 90v7M92 89.5h7M95.5 86v7M92 91.5h7M95.5 88v7M92 92.5h7M95.5 89v7M93 89.5h7M96.5 86v7M93 88.5h7M96.5 85v7M93 91.5h7M96.5 88v7M93 94.5h7M96.5 91v7M94 89.5h7M97.5 86v7M94 92.5h7M97.5 89v7M94 86.5h7M97.5 83v7M95 90.5h7M98.5 87v7M95 92.5h7M98.5 89v7M95 88.5h7M98.5 85v7M95 82.5h7M98.5 79v7M96 88.5h7M99.5 85v7M96 89.5h7M99.5 86v7M96 81.5h7M99.5 78v7M97 90.5h7M100.5 87v7M97 91.5h7M100.5 88v7M97 80.5h7M100.5 77v7M98 88.5h7M101.5 85v7M98 92.5h7M101.5 89v7M98 81.5h7M101.5 78v7M98 85.5h7M101.5 82v7M98 87.5h7M101.5 84v7M99 93.5h7M102.5 90v7M99 87.5h7M102.5 84v7M99 90.5h7M102.5 87v7M100 89.5h7M103.5 86v7M100 95.5h7M103.5 92v7M100 92.5h7M103.5 89v7M100 94.5h7M103.5 91v7M101 90.5h7M104.5 87v7M101 89.5h7M104.5 86v7M101 88.5h7M104.5 85v7M102 91.5h7M105.5 88v7M102 86.5h7M105.5 83v7M102 88.5h7M105.5 85v7M102 90.5h7M105.5 87v7M103 90.5h7M106.5 87v7M103 88.5h7M106.5 85v7M103 85.5h7M106.5 82v7M103 87.5h7M106.5 84v7M103 89.5h7M106.5 86v7M104 86.5h7M107.5 83v7M104 89.5h7M107.5 86v7M104 88.5h7M107.5 85v7M105 94.5h7M108.5 91v7M105 88.5h7M108.5 85v7M105 92.5h7M108.5 89v7M105 86.5h7M108.5 83v7M106 83.5h7M109.5 80v7M106 85.5h7M109.5 82v7M106 89.5h7M109.5 86v7M106 86.5h7M109.5 83v7M107 89.5h7M110.5 86v7M107 87.5h7M110.5 84v7M107 84.5h7M110.5 81v7M107 85.5h7M110.5 82v7M108 88.5h7M111.5 85v7M108 92.5h7M111.5 89v7M108 85.5h7M111.5 82v7M108 91.5h7M111.5 88v7M109 85.5h7M112.5 82v7M109 84.5h7M112.5 81v7M109 89.5h7M112.5 86v7M109 91.5h7M112.5 88v7M109 90.5h7M112.5 87v7M110 84.5h7M113.5 81v7M110 89.5h7M113.5 86v7M110 85.5h7M113.5 82v7M110 90.5h7M113.5 87v7M111 86.5h7M114.5 83v7M111 93.5h7M114.5 90v7M111 92.5h7M114.5 89v7M111 89.5h7M114.5 86v7M112 91.5h7M115.5 88v7M112 94.5h7M115.5 91v7M112 95.5h7M115.5 92v7M112 89.5h7M115.5 86v7M113 94.5h7M116.5 91v7M113 91.5h7M116.5 88v7M113 90.5h7M116.5 87v7M113 92.5h7M116.5 89v7M114 95.5h7M117.5 92v7M114 85.5h7M117.5 82v7M114 89.5h7M117.5 86v7M114 86.5h7M117.5 83v7M114 88.5h7M117.5 85v7M115 89.5h7M118.5 86v7M115 86.5h7M118.5 83v7M115 88.5h7M118.5 85v7M116 95.5h7M119.5 92v7M116 89.5h7M119.5 86v7M116 91.5h7M119.5 88v7M116 88.5h7M119.5 85v7M117 88.5h7M120.5 85v7M117 94.5h7M120.5 91v7M117 89.5h7M120.5 86v7M117 91.5h7M120.5 88v7M117 93.5h7M120.5 90v7M118 89.5h7M121.5 86v7M118 90.5h7M121.5 87v7M118 93.5h7M121.5 90v7M118 91.5h7M121.5 88v7M119 92.5h7M122.5 89v7M119 90.5h7M122.5 87v7M119 87.5h7M122.5 84v7M119 93.5h7M122.5 90v7M120 95.5h7M123.5 92v7M120 92.5h7M123.5 89v7M120 88.5h7M123.5 85v7M120 90.5h7M123.5 87v7M121 91.5h7M124.5 88v7M121 88.5h7M124.5 85v7M121 84.5h7M124.5 81v7M121 87.5h7M124.5 84v7M122 83.5h7M125.5 80v7M122 88.5h7M125.5 85v7M122 82.5h7M125.5 79v7M122 85.5h7M125.5 82v7M123 89.5h7M126.5 86v7M123 86.5h7M126.5 83v7M123 83.5h7M126.5 80v7M124 86.5h7M127.5 83v7M124 85.5h7M127.5 82v7M124 83.5h7M127.5 80v7M125 86.5h7M128.5 83v7M125 91.5h7M128.5 88v7M125 89.5h7M128.5 86v7M125 82.5h7M128.5 79v7M126 91.5h7M129.5 88v7M126 90.5h7M129.5 87v7M126 84.5h7M129.5 81v7M126 86.5h7M129.5 83v7M127 89.5h7M130.5 86v7M127 88.5h7M130.5 85v7M127 90.5h7M130.5 87v7M127 91.5h7M130.5 88v7M127 84.5h7M130.5 81v7M128 89.5h7M131.5 86v7M128 91.5h7M131.5 88v7M128 90.5h7M131.5 87v7M128 88.5h7M131.5 85v7M129 94.5h7M132.5 91v7M129 87.5h7M132.5 84v7M129 89.5h7M132.5 86v7M129 90.5h7M132.5 87v7M130 89.5h7M133.5 86v7M130 90.5h7M133.5 87v7M130 84.5h7M133.5 81v7M130 88.5h7M133.5 85v7M130 91.5h7M133.5 88v7M131 93.5h7M134.5 90v7M131 92.5h7M134.5 89v7M131 90.5h7M134.5 87v7M131 94.5h7M134.5 91v7M132 94.5h7M135.5 91v7M132 88.5h7M135.5 85v7M132 95.5h7M135.5 92v7M132 90.5h7M135.5 87v7M132 84.5h7M135.5 81v7M133 89.5h7M136.5 86v7M133 85.5h7M136.5 82v7M134 92.5h7M137.5 89v7M134 87.5h7M137.5 84v7M134 90.5h7M137.5 87v7M134 88.5h7M137.5 85v7M135 94.5h7M138.5 91v7M135 91.5h7M138.5 88v7M135 84.5h7M138.5 81v7M135 88.5h7M138.5 85v7M136 90.5h7M139.5 87v7M136 92.5h7M139.5 89v7M136 88.5h7M139.5 85v7M136 97.5h7M139.5 94v7M137 95.5h7M140.5 92v7M137 86.5h7M140.5 83v7M137 88.5h7M140.5 85v7M137 87.5h7M140.5 84v7M138 88.5h7M141.5 85v7M138 90.5h7M141.5 87v7M138 89.5h7M141.5 86v7M138 95.5h7M141.5 92v7M139 84.5h7M142.5 81v7M139 92.5h7M142.5 89v7M139 93.5h7M142.5 90v7M139 88.5h7M142.5 85v7M140 89.5h7M143.5 86v7M140 91.5h7M143.5 88v7M140 88.5h7M143.5 85v7M141 91.5h7M144.5 88v7M141 87.5h7M144.5 84v7M141 92.5h7M144.5 89v7M142 93.5h7M145.5 90v7M142 82.5h7M145.5 79v7M142 88.5h7M145.5 85v7M142 83.5h7M145.5 80v7M143 86.5h7M146.5 83v7M143 87.5h7M146.5 84v7M143 89.5h7M146.5 86v7M144 89.5h7M147.5 86v7M144 88.5h7M147.5 85v7M144 90.5h7M147.5 87v7M144 86.5h7M147.5 83v7M145 83.5h7M148.5 80v7M145 87.5h7M148.5 84v7M145 92.5h7M148.5 89v7M145 90.5h7M148.5 87v7M146 84.5h7M149.5 81v7M146 86.5h7M149.5 83v7M146 93.5h7M149.5 90v7M146 87.5h7M149.5 84v7M147 87.5h7M150.5 84v7M147 90.5h7M150.5 87v7M147 89.5h7M150.5 86v7M147 86.5h7M150.5 83v7M148 90.5h7M151.5 87v7M148 91.5h7M151.5 88v7M148 84.5h7M151.5 81v7M148 93.5h7M151.5 90v7M149 91.5h7M152.5 88v7M149 92.5h7M152.5 89v7M149 86.5h7M152.5 83v7M150 89.5h7M153.5 86v7M150 91.5h7M153.5 88v7M150 78.5h7M153.5 75v7M150 84.5h7M153.5 81v7M151 84.5h7M154.5 81v7M151 97.5h7M154.5 94v7M151 89.5h7M154.5 86v7M151 88.5h7M154.5 85v7M151 86.5h7M154.5 83v7M152 88.5h7M155.5 85v7M152 90.5h7M155.5 87v7M152 89.5h7M155.5 86v7M153 94.5h7M156.5 91v7M153 90.5h7M156.5 87v7M153 88.5h7M156.5 85v7M154 86.5h7M157.5 83v7M154 85.5h7M157.5 82v7M154 89.5h7M157.5 86v7M155 86.5h7M158.5 83v7M155 88.5h7M158.5 85v7M155 84.5h7M158.5 81v7M155 83.5h7M158.5 80v7M156 87.5h7M159.5 84v7M156 93.5h7M159.5 90v7M156 84.5h7M159.5 81v7M156 89.5h7M159.5 86v7M156 82.5h7M159.5 79v7M157 87.5h7M160.5 84v7M157 85.5h7M160.5 82v7M157 86.5h7M160.5 83v7M158 86.5h7M161.5 83v7M158 88.5h7M161.5 85v7M158 91.5h7M161.5 88v7M159 84.5h7M162.5 81v7M159 87.5h7M162.5 84v7M159 96.5h7M162.5 93v7M159 89.5h7M162.5 86v7M159 86.5h7M162.5 83v7M160 91.5h7M163.5 88v7M160 84.5h7M163.5 81v7M160 88.5h7M163.5 85v7M161 86.5h7M164.5 83v7M161 94.5h7M164.5 91v7M162 86.5h7M165.5 83v7M162 92.5h7M165.5 89v7M162 89.5h7M165.5 86v7M162 88.5h7M165.5 85v7M163 90.5h7M166.5 87v7M163 88.5h7M166.5 85v7M163 83.5h7M166.5 80v7M163 89.5h7M166.5 86v7M164 86.5h7M167.5 83v7M164 87.5h7M167.5 84v7M164 89.5h7M167.5 86v7M164 83.5h7M167.5 80v7M165 86.5h7M168.5 83v7M165 91.5h7M168.5 88v7M165 82.5h7M168.5 79v7M165 88.5h7M168.5 85v7M166 88.5h7M169.5 85v7M166 87.5h7M169.5 84v7M166 84.5h7M169.5 81v7M166 86.5h7M169.5 83v7M167 87.5h7M170.5 84v7M167 86.5h7M170.5 83v7M167 84.5h7M170.5 81v7M168 89.5h7M171.5 86v7M168 86.5h7M171.5 83v7M168 88.5h7M171.5 85v7M169 90.5h7M172.5 87v7M169 92.5h7M172.5 89v7M169 89.5h7M172.5 86v7M170 85.5h7M173.5 82v7M170 91.5h7M173.5 88v7M170 95.5h7M173.5 92v7M171 95.5h7M174.5 92v7M171 88.5h7M174.5 85v7M171 86.5h7M174.5 83v7M172 87.5h7M175.5 84v7M172 91.5h7M175.5 88v7M172 89.5h7M175.5 86v7M173 92.5h7M176.5 89v7M173 87.5h7M176.5 84v7M173 90.5h7M176.5 87v7M173 88.5h7M176.5 85v7M174 95.5h7M177.5 92v7M174 87.5h7M177.5 84v7M174 93.5h7M177.5 90v7M174 90.5h7M177.5 87v7M175 90.5h7M178.5 87v7M175 92.5h7M178.5 89v7M175 86.5h7M178.5 83v7M175 88.5h7M178.5 85v7M176 93.5h7M179.5 90v7M176 92.5h7M179.5 89v7M176 86.5h7M179.5 83v7M176 95.5h7M179.5 92v7M177 95.5h7M180.5 92v7M177 91.5h7M180.5 88v7M177 88.5h7M180.5 85v7M177 92.5h7M180.5 89v7M178 92.5h7M181.5 89v7M178 90.5h7M181.5 87v7M178 88.5h7M181.5 85v7M179 91.5h7M182.5 88v7M179 90.5h7M182.5 87v7M179 89.5h7M182.5 86v7M180 91.5h7M183.5 88v7M180 89.5h7M183.5 86v7M180 88.5h7M183.5 85v7M180 90.5h7M183.5 87v7M181 87.5h7M184.5 84v7M181 93.5h7M184.5 90v7M181 89.5h7M184.5 86v7M182 94.5h7M185.5 91v7M182 87.5h7M185.5 84v7M182 84.5h7M185.5 81v7M183 86.5h7M186.5 83v7M183 87.5h7M186.5 84v7M183 90.5h7M186.5 87v7M183 89.5h7M186.5 86v7M184 93.5h7M187.5 90v7M184 89.5h7M187.5 86v7M184 84.5h7M187.5 81v7M184 91.5h7M187.5 88v7M185 87.5h7M188.5 84v7M185 86.5h7M188.5 83v7M185 88.5h7M188.5 85v7M185 92.5h7M188.5 89v7M186 90.5h7M189.5 87v7M186 86.5h7M189.5 83v7M186 88.5h7M189.5 85v7M187 95.5h7M190.5 92v7M187 90.5h7M190.5 87v7M187 91.5h7M190.5 88v7M188 95.5h7M191.5 92v7M188 87.5h7M191.5 84v7M188 90.5h7M191.5 87v7M188 88.5h7M191.5 85v7M188 86.5h7M191.5 83v7M189 94.5h7M192.5 91v7M189 91.5h7M192.5 88v7M189 90.5h7M192.5 87v7M189 85.5h7M192.5 82v7M190 86.5h7M193.5 83v7M190 97.5h7M193.5 94v7M190 88.5h7M193.5 85v7M190 89.5h7M193.5 86v7M191 96.5h7M194.5 93v7M191 93.5h7M194.5 90v7M191 84.5h7M194.5 81v7M191 90.5h7M194.5 87v7M191 88.5h7M194.5 85v7M192 90.5h7M195.5 87v7M192 88.5h7M195.5 85v7M192 91.5h7M195.5 88v7M193 87.5h7M196.5 84v7M193 91.5h7M196.5 88v7M193 94.5h7M196.5 91v7M193 93.5h7M196.5 90v7M194 91.5h7M197.5 88v7M194 86.5h7M197.5 83v7M194 93.5h7M197.5 90v7M195 87.5h7M198.5 84v7M195 89.5h7M198.5 86v7M195 88.5h7M198.5 85v7M195 94.5h7M198.5 91v7M196 93.5h7M199.5 90v7M196 86.5h7M199.5 83v7M196 89.5h7M199.5 86v7M196 94.5h7M199.5 91v7M196 90.5h7M199.5 87v7M197 91.5h7M200.5 88v7M197 86.5h7M200.5 83v7M198 86.5h7M201.5 83v7M198 90.5h7M201.5 87v7M198 89.5h7M201.5 86v7M198 88.5h7M201.5 85v7M199 87.5h7M202.5 84v7M199 88.5h7M202.5 85v7M199 85.5h7M202.5 82v7M199 90.5h7M202.5 87v7M199 93.5h7M202.5 90v7M200 89.5h7M203.5 86v7M200 87.5h7M203.5 84v7M200 84.5h7M203.5 81v7M200 96.5h7M203.5 93v7M201 92.5h7M204.5 89v7M201 91.5h7M204.5 88v7M201 89.5h7M204.5 86v7M201 90.5h7M204.5 87v7M202 90.5h7M205.5 87v7M202 95.5h7M205.5 92v7M202 94.5h7M205.5 91v7M203 92.5h7M206.5 89v7M203 93.5h7M206.5 90v7M203 89.5h7M206.5 86v7M203 97.5h7M206.5 94v7M204 96.5h7M207.5 93v7M204 94.5h7M207.5 91v7M204 98.5h7M207.5 95v7M205 93.5h7M208.5 90v7M205 95.5h7M208.5 92v7M205 100.5h7M208.5 97v7M206 97.5h7M209.5 94v7M206 96.5h7M209.5 93v7M206 95.5h7M209.5 92v7M206 100.5h7M209.5 97v7M207 94.5h7M210.5 91v7M207 98.5h7M210.5 95v7M207 96.5h7M210.5 93v7M207 95.5h7M210.5 92v7M208 99.5h7M211.5 96v7M208 100.5h7M211.5 97v7M208 97.5h7M211.5 94v7M209 97.5h7M212.5 94v7M209 102.5h7M212.5 99v7M209 99.5h7M212.5 96v7M210 100.5h7M213.5 97v7M210 98.5h7M213.5 95v7M210 99.5h7M213.5 96v7M211 98.5h7M214.5 95v7M211 96.5h7M214.5 93v7M211 97.5h7M214.5 94v7M212 95.5h7M215.5 92v7M212 99.5h7M215.5 96v7M212 98.5h7M215.5 95v7M212 96.5h7M215.5 93v7M213 97.5h7M216.5 94v7M213 96.5h7M216.5 93v7M213 95.5h7M216.5 92v7M214 98.5h7M217.5 95v7M214 99.5h7M217.5 96v7M215 99.5h7M218.5 96v7M215 97.5h7M218.5 94v7M216 98.5h7M219.5 95v7M216 95.5h7M219.5 92v7M216 99.5h7M219.5 96v7M216 96.5h7M219.5 93v7M217 99.5h7M220.5 96v7M217 98.5h7M220.5 95v7M218 97.5h7M221.5 94v7M218 98.5h7M221.5 95v7M218 99.5h7M221.5 96v7M218 100.5h7M221.5 97v7M219 100.5h7M222.5 97v7M219 96.5h7M222.5 93v7M219 98.5h7M222.5 95v7M220 98.5h7M223.5 95v7M220 100.5h7M223.5 97v7M220 101.5h7M223.5 98v7M221 98.5h7M224.5 95v7M221 99.5h7M224.5 96v7M222 99.5h7M225.5 96v7M222 98.5h7M225.5 95v7M223 96.5h7M226.5 93v7M223 97.5h7M226.5 94v7M224 96.5h7M227.5 93v7M224 98.5h7M227.5 95v7M225 96.5h7M228.5 93v7M225 99.5h7M228.5 96v7M225 97.5h7M228.5 94v7M226 99.5h7M229.5 96v7M226 95.5h7M229.5 92v7M226 98.5h7M229.5 95v7M227 97.5h7M230.5 94v7M227 98.5h7M230.5 95v7M227 99.5h7M230.5 96v7M227 100.5h7M230.5 97v7M228 100.5h7M231.5 97v7M228 96.5h7M231.5 93v7M229 99.5h7M232.5 96v7M229 98.5h7M232.5 95v7M229 96.5h7M232.5 93v7M230 98.5h7M233.5 95v7M230 97.5h7M233.5 94v7M230 99.5h7M233.5 96v7M231 97.5h7M234.5 94v7M231 96.5h7M234.5 93v7M231 98.5h7M234.5 95v7M232 98.5h7M235.5 95v7M232 97.5h7M235.5 94v7M232 96.5h7M235.5 93v7M233 98.5h7M236.5 95v7M233 96.5h7M236.5 93v7M233 100.5h7M236.5 97v7M234 98.5h7M237.5 95v7M235 96.5h7M238.5 93v7M235 97.5h7M238.5 94v7M236 100.5h7M239.5 97v7M236 68.5h7M239.5 65v7M236 99.5h7M239.5 96v7M236 95.5h7M239.5 92v7M237 98.5h7M240.5 95v7M237 96.5h7M240.5 93v7M238 99.5h7M241.5 96v7M238 97.5h7M241.5 94v7M239 100.5h7M242.5 97v7M239 98.5h7M242.5 95v7M239 99.5h7M242.5 96v7M240 99.5h7M243.5 96v7M240 97.5h7M243.5 94v7M240 100.5h7M243.5 97v7M241 100.5h7M244.5 97v7M241 99.5h7M244.5 96v7M241 95.5h7M244.5 92v7M242 100.5h7M245.5 97v7M242 97.5h7M245.5 94v7M242 98.5h7M245.5 95v7M243 99.5h7M246.5 96v7M243 100.5h7M246.5 97v7M243 98.5h7M246.5 95v7M244 100.5h7M247.5 97v7M244 101.5h7M247.5 98v7M244 99.5h7M247.5 96v7M245 100.5h7M248.5 97v7M245 101.5h7M248.5 98v7M245 102.5h7M248.5 99v7M246 97.5h7M249.5 94v7M246 99.5h7M249.5 96v7M246 101.5h7M249.5 98v7M246 103.5h7M249.5 100v7M247 100.5h7M250.5 97v7M247 101.5h7M250.5 98v7M248 101.5h7M251.5 98v7M248 105.5h7M251.5 102v7M248 103.5h7M251.5 100v7M249 104.5h7M252.5 101v7M249 102.5h7M252.5 99v7M250 102.5h7M253.5 99v7M250 103.5h7M253.5 100v7M250 104.5h7M253.5 101v7M251 107.5h7M254.5 104v7M251 102.5h7M254.5 99v7M251 104.5h7M254.5 101v7M251 101.5h7M254.5 98v7M252 101.5h7M255.5 98v7M252 106.5h7M255.5 103v7M252 104.5h7M255.5 101v7M253 104.5h7M256.5 101v7M253 103.5h7M256.5 100v7M254 103.5h7M257.5 100v7M254 104.5h7M257.5 101v7M254 106.5h7M257.5 103v7M254 102.5h7M257.5 99v7M255 104.5h7M258.5 101v7M255 105.5h7M258.5 102v7M255 107.5h7M258.5 104v7M255 106.5h7M258.5 103v7M256 106.5h7M259.5 103v7M256 104.5h7M259.5 101v7M257 106.5h7M260.5 103v7M257 102.5h7M260.5 99v7M257 108.5h7M260.5 105v7M257 107.5h7M260.5 104v7M258 107.5h7M261.5 104v7M258 103.5h7M261.5 100v7M259 104.5h7M262.5 101v7M259 101.5h7M262.5 98v7M259 103.5h7M262.5 100v7M259 105.5h7M262.5 102v7M260 107.5h7M263.5 104v7M260 104.5h7M263.5 101v7M260 105.5h7M263.5 102v7M261 109.5h7M264.5 106v7M261 105.5h7M264.5 102v7M261 108.5h7M264.5 105v7M261 106.5h7M264.5 103v7M262 105.5h7M265.5 102v7M262 107.5h7M265.5 104v7M262 108.5h7M265.5 105v7M262 104.5h7M265.5 101v7M263 107.5h7M266.5 104v7M263 102.5h7M266.5 99v7M263 104.5h7M266.5 101v7M263 108.5h7M266.5 105v7M264 104.5h7M267.5 101v7M264 105.5h7M267.5 102v7M265 105.5h7M268.5 102v7M265 104.5h7M268.5 101v7M265 103.5h7M268.5 100v7M266 106.5h7M269.5 103v7M266 105.5h7M269.5 102v7M266 104.5h7M269.5 101v7M266 103.5h7M269.5 100v7M267 103.5h7M270.5 100v7M267 105.5h7M270.5 102v7M267 104.5h7M270.5 101v7M268 102.5h7M271.5 99v7M268 106.5h7M271.5 103v7M268 105.5h7M271.5 102v7M268 103.5h7M271.5 100v7M269 103.5h7M272.5 100v7M269 105.5h7M272.5 102v7M270 109.5h7M273.5 106v7M270 104.5h7M273.5 101v7M270 108.5h7M273.5 105v7M271 108.5h7M274.5 105v7M271 105.5h7M274.5 102v7M271 106.5h7M274.5 103v7M272 106.5h7M275.5 103v7M272 104.5h7M275.5 101v7M272 102.5h7M275.5 99v7M273 107.5h7M276.5 104v7M274 439.5h7M277.5 436v7M275 439.5h7M278.5 436v7M275 104.5h7M278.5 101v7M276 103.5h7M279.5 100v7M276 101.5h7M279.5 98v7M276 98.5h7M279.5 95v7M276 97.5h7M279.5 94v7M277 100.5h7M280.5 97v7M277 104.5h7M280.5 101v7M278 98.5h7M281.5 95v7M278 99.5h7M281.5 96v7M278 94.5h7M281.5 91v7M278 106.5h7M281.5 103v7M279 104.5h7M282.5 101v7M279 105.5h7M282.5 102v7M279 106.5h7M282.5 103v7M280 103.5h7M283.5 100v7M280 101.5h7M283.5 98v7M280 100.5h7M283.5 97v7M280 105.5h7M283.5 102v7M281 103.5h7M284.5 100v7M281 101.5h7M284.5 98v7M281 106.5h7M284.5 103v7M281 109.5h7M284.5 106v7M282 103.5h7M285.5 100v7M282 105.5h7M285.5 102v7M282 106.5h7M285.5 103v7M282 101.5h7M285.5 98v7M283 109.5h7M286.5 106v7M283 102.5h7M286.5 99v7M283 104.5h7M286.5 101v7M283 110.5h7M286.5 107v7M283 106.5h7M286.5 103v7M284 104.5h7M287.5 101v7M284 106.5h7M287.5 103v7M284 108.5h7M287.5 105v7M284 110.5h7M287.5 107v7M285 106.5h7M288.5 103v7M285 107.5h7M288.5 104v7M285 109.5h7M288.5 106v7M286 108.5h7M289.5 105v7M286 103.5h7M289.5 100v7M286 106.5h7M289.5 103v7M286 114.5h7M289.5 111v7M287 108.5h7M290.5 105v7M287 110.5h7M290.5 107v7M287 109.5h7M290.5 106v7M288 110.5h7M291.5 107v7M288 113.5h7M291.5 110v7M289 112.5h7M292.5 109v7M289 108.5h7M292.5 105v7M290 112.5h7M293.5 109v7M290 111.5h7M293.5 108v7M290 113.5h7M293.5 110v7M291 110.5h7M294.5 107v7M291 109.5h7M294.5 106v7M291 112.5h7M294.5 109v7M291 108.5h7M294.5 105v7M291 114.5h7M294.5 111v7M292 113.5h7M295.5 110v7M292 111.5h7M295.5 108v7M292 110.5h7M295.5 107v7M293 109.5h7M296.5 106v7M293 107.5h7M296.5 104v7M293 110.5h7M296.5 107v7M294 112.5h7M297.5 109v7M294 108.5h7M297.5 105v7M294 106.5h7M297.5 103v7M294 110.5h7M297.5 107v7M294 113.5h7M297.5 110v7M295 109.5h7M298.5 106v7M295 106.5h7M298.5 103v7M295 110.5h7M298.5 107v7M296 110.5h7M299.5 107v7M296 109.5h7M299.5 106v7M296 104.5h7M299.5 101v7M296 107.5h7M299.5 104v7M297 112.5h7M300.5 109v7M297 107.5h7M300.5 104v7M297 110.5h7M300.5 107v7M297 109.5h7M300.5 106v7M298 109.5h7M301.5 106v7M298 107.5h7M301.5 104v7M298 108.5h7M301.5 105v7M299 110.5h7M302.5 107v7M299 107.5h7M302.5 104v7M299 106.5h7M302.5 103v7M299 109.5h7M302.5 106v7M300 104.5h7M303.5 101v7M300 111.5h7M303.5 108v7M300 109.5h7M303.5 106v7M300 112.5h7M303.5 109v7M301 111.5h7M304.5 108v7M301 105.5h7M304.5 102v7M301 108.5h7M304.5 105v7M301 109.5h7M304.5 106v7M302 109.5h7M305.5 106v7M302 108.5h7M305.5 105v7M302 106.5h7M305.5 103v7M302 107.5h7M305.5 104v7M303 104.5h7M306.5 101v7M303 108.5h7M306.5 105v7M303 106.5h7M306.5 103v7M304 108.5h7M307.5 105v7M304 107.5h7M307.5 104v7M304 109.5h7M307.5 106v7M305 111.5h7M308.5 108v7M305 110.5h7M308.5 107v7M305 109.5h7M308.5 106v7M306 112.5h7M309.5 109v7M306 104.5h7M309.5 101v7M306 109.5h7M309.5 106v7M306 108.5h7M309.5 105v7M307 106.5h7M310.5 103v7M307 108.5h7M310.5 105v7M307 107.5h7M310.5 104v7M307 110.5h7M310.5 107v7M308 110.5h7M311.5 107v7M308 111.5h7M311.5 108v7M308 105.5h7M311.5 102v7M308 108.5h7M311.5 105v7M309 110.5h7M312.5 107v7M309 111.5h7M312.5 108v7M309 113.5h7M312.5 110v7M310 115.5h7M313.5 112v7M310 116.5h7M313.5 113v7M311 115.5h7M314.5 112v7M311 112.5h7M314.5 109v7M311 118.5h7M314.5 115v7M311 117.5h7M314.5 114v7M312 112.5h7M315.5 109v7M312 111.5h7M315.5 108v7M312 114.5h7M315.5 111v7M312 117.5h7M315.5 114v7M313 116.5h7M316.5 113v7M313 117.5h7M316.5 114v7M314 114.5h7M317.5 111v7M314 115.5h7M317.5 112v7M314 120.5h7M317.5 117v7M315 120.5h7M318.5 117v7M315 116.5h7M318.5 113v7M315 118.5h7M318.5 115v7M315 115.5h7M318.5 112v7M315 114.5h7M318.5 111v7M316 115.5h7M319.5 112v7M316 116.5h7M319.5 113v7M317 116.5h7M320.5 113v7M317 118.5h7M320.5 115v7M317 115.5h7M320.5 112v7M318 117.5h7M321.5 114v7M318 118.5h7M321.5 115v7M318 114.5h7M321.5 111v7M319 116.5h7M322.5 113v7M319 113.5h7M322.5 110v7M319 118.5h7M322.5 115v7M319 117.5h7M322.5 114v7M320 119.5h7M323.5 116v7M320 117.5h7M323.5 114v7M320 115.5h7M323.5 112v7M320 116.5h7M323.5 113v7M320 113.5h7M323.5 110v7M321 117.5h7M324.5 114v7M321 120.5h7M324.5 117v7M321 115.5h7M324.5 112v7M322 118.5h7M325.5 115v7M322 123.5h7M325.5 120v7M322 119.5h7M325.5 116v7M323 120.5h7M326.5 117v7M323 119.5h7M326.5 116v7M323 121.5h7M326.5 118v7M323 116.5h7M326.5 113v7M324 122.5h7M327.5 119v7M324 120.5h7M327.5 117v7M325 116.5h7M328.5 113v7M325 117.5h7M328.5 114v7M325 118.5h7M328.5 115v7M325 120.5h7M328.5 117v7M326 117.5h7M329.5 114v7M326 115.5h7M329.5 112v7M326 118.5h7M329.5 115v7M326 124.5h7M329.5 121v7M327 123.5h7M330.5 120v7M327 117.5h7M330.5 114v7M328 121.5h7M331.5 118v7M328 117.5h7M331.5 114v7M328 119.5h7M331.5 116v7M328 118.5h7M331.5 115v7M329 118.5h7M332.5 115v7M329 439.5h7M332.5 436v7M329 116.5h7M332.5 113v7M329 120.5h7M332.5 117v7M330 123.5h7M333.5 120v7M330 118.5h7M333.5 115v7M330 119.5h7M333.5 116v7M330 115.5h7M333.5 112v7M331 123.5h7M334.5 120v7M331 118.5h7M334.5 115v7M331 125.5h7M334.5 122v7M331 119.5h7M334.5 116v7M332 121.5h7M335.5 118v7M332 118.5h7M335.5 115v7M332 124.5h7M335.5 121v7M333 118.5h7M336.5 115v7M333 123.5h7M336.5 120v7M333 115.5h7M336.5 112v7M333 120.5h7M336.5 117v7M333 116.5h7M336.5 113v7M334 119.5h7M337.5 116v7M334 115.5h7M337.5 112v7M334 117.5h7M337.5 114v7M334 116.5h7M337.5 113v7M335 117.5h7M338.5 114v7M335 116.5h7M338.5 113v7M336 117.5h7M339.5 114v7M336 120.5h7M339.5 117v7M336 118.5h7M339.5 115v7M336 116.5h7M339.5 113v7M337 113.5h7M340.5 110v7M337 117.5h7M340.5 114v7M337 118.5h7M340.5 115v7M338 119.5h7M341.5 116v7M338 116.5h7M341.5 113v7M339 119.5h7M342.5 116v7M339 117.5h7M342.5 114v7M339 120.5h7M342.5 117v7M340 117.5h7M343.5 114v7M340 119.5h7M343.5 116v7M340 120.5h7M343.5 117v7M340 118.5h7M343.5 115v7M341 119.5h7M344.5 116v7M341 115.5h7M344.5 112v7M341 120.5h7M344.5 117v7M341 116.5h7M344.5 113v7M342 123.5h7M345.5 120v7M342 122.5h7M345.5 119v7M342 118.5h7M345.5 115v7M342 117.5h7M345.5 114v7M343 121.5h7M346.5 118v7M343 118.5h7M346.5 115v7M343 117.5h7M346.5 114v7M344 119.5h7M347.5 116v7M344 121.5h7M347.5 118v7M344 115.5h7M347.5 112v7M344 118.5h7M347.5 115v7M345 120.5h7M348.5 117v7M345 121.5h7M348.5 118v7M346 117.5h7M349.5 114v7M346 119.5h7M349.5 116v7M346 121.5h7M349.5 118v7M347 122.5h7M350.5 119v7M347 118.5h7M350.5 115v7M347 124.5h7M350.5 121v7M347 121.5h7M350.5 118v7M348 123.5h7M351.5 120v7M348 122.5h7M351.5 119v7M348 119.5h7M351.5 116v7M349 118.5h7M352.5 115v7M349 121.5h7M352.5 118v7M349 91.5h7M352.5 88v7M349 89.5h7M352.5 86v7M350 88.5h7M353.5 85v7M350 96.5h7M353.5 93v7M350 92.5h7M353.5 89v7M351 88.5h7M354.5 85v7M351 89.5h7M354.5 86v7M351 96.5h7M354.5 93v7M351 93.5h7M354.5 90v7M352 93.5h7M355.5 90v7M352 94.5h7M355.5 91v7M352 92.5h7M355.5 89v7M352 88.5h7M355.5 85v7M352 90.5h7M355.5 87v7M353 95.5h7M356.5 92v7M353 90.5h7M356.5 87v7M353 94.5h7M356.5 91v7M353 88.5h7M356.5 85v7M354 89.5h7M357.5 86v7M354 95.5h7M357.5 92v7M354 94.5h7M357.5 91v7M354 96.5h7M357.5 93v7M354 91.5h7M357.5 88v7M355 94.5h7M358.5 91v7M355 83.5h7M358.5 80v7M355 93.5h7M358.5 90v7M355 90.5h7M358.5 87v7M356 92.5h7M359.5 89v7M356 90.5h7M359.5 87v7M356 95.5h7M359.5 92v7M356 121.5h7M359.5 118v7M357 123.5h7M360.5 120v7M357 119.5h7M360.5 116v7M357 120.5h7M360.5 117v7M358 119.5h7M361.5 116v7M358 121.5h7M361.5 118v7M358 122.5h7M361.5 119v7M358 123.5h7M361.5 120v7M359 119.5h7M362.5 116v7M359 124.5h7M362.5 121v7M359 122.5h7M362.5 119v7M359 121.5h7M362.5 118v7M360 125.5h7M363.5 122v7M360 122.5h7M363.5 119v7M360 121.5h7M363.5 118v7M361 123.5h7M364.5 120v7M361 120.5h7M364.5 117v7M361 122.5h7M364.5 119v7M362 125.5h7M365.5 122v7M362 123.5h7M365.5 120v7M362 121.5h7M365.5 118v7M362 122.5h7M365.5 119v7M363 119.5h7M366.5 116v7M363 125.5h7M366.5 122v7M363 124.5h7M366.5 121v7M364 121.5h7M367.5 118v7M364 125.5h7M367.5 122v7M364 124.5h7M367.5 121v7M365 123.5h7M368.5 120v7M365 122.5h7M368.5 119v7M365 124.5h7M368.5 121v7M365 121.5h7M368.5 118v7M366 126.5h7M369.5 123v7M366 124.5h7M369.5 121v7M366 123.5h7M369.5 120v7M367 122.5h7M370.5 119v7M367 124.5h7M370.5 121v7M368 126.5h7M371.5 123v7M368 122.5h7M371.5 119v7M368 125.5h7M371.5 122v7M369 123.5h7M372.5 120v7M369 124.5h7M372.5 121v7M369 122.5h7M372.5 119v7M370 122.5h7M373.5 119v7M370 126.5h7M373.5 123v7M370 120.5h7M373.5 117v7M370 124.5h7M373.5 121v7M370 121.5h7M373.5 118v7M371 125.5h7M374.5 122v7M371 124.5h7M374.5 121v7M371 126.5h7M374.5 123v7M371 123.5h7M374.5 120v7M372 124.5h7M375.5 121v7M372 125.5h7M375.5 122v7M372 123.5h7M375.5 120v7M373 123.5h7M376.5 120v7M373 124.5h7M376.5 121v7M373 126.5h7M376.5 123v7M373 121.5h7M376.5 118v7M374 123.5h7M377.5 120v7M374 124.5h7M377.5 121v7M374 126.5h7M377.5 123v7M374 120.5h7M377.5 117v7M375 125.5h7M378.5 122v7M375 123.5h7M378.5 120v7M375 122.5h7M378.5 119v7M375 120.5h7M378.5 117v7M376 124.5h7M379.5 121v7M376 123.5h7M379.5 120v7M376 121.5h7M379.5 118v7M376 120.5h7M379.5 117v7M377 122.5h7M380.5 119v7M377 120.5h7M380.5 117v7M377 121.5h7M380.5 118v7M378 120.5h7M381.5 117v7M378 119.5h7M381.5 116v7M378 122.5h7M381.5 119v7M378 121.5h7M381.5 118v7M379 118.5h7M382.5 115v7M379 122.5h7M382.5 119v7M379 119.5h7M382.5 116v7M379 120.5h7M382.5 117v7M380 120.5h7M383.5 117v7M380 122.5h7M383.5 119v7M380 121.5h7M383.5 118v7M381 121.5h7M384.5 118v7M381 120.5h7M384.5 117v7M381 122.5h7M384.5 119v7M381 123.5h7M384.5 120v7M382 122.5h7M385.5 119v7M382 121.5h7M385.5 118v7M382 123.5h7M385.5 120v7M383 120.5h7M386.5 117v7M383 121.5h7M386.5 118v7M383 119.5h7M386.5 116v7M383 122.5h7M386.5 119v7M384 121.5h7M387.5 118v7M384 122.5h7M387.5 119v7M384 123.5h7M387.5 120v7M384 120.5h7M387.5 117v7M385 121.5h7M388.5 118v7M385 120.5h7M388.5 117v7M385 118.5h7M388.5 115v7M386 118.5h7M389.5 115v7M386 123.5h7M389.5 120v7M386 119.5h7M389.5 116v7M386 121.5h7M389.5 118v7M387 123.5h7M390.5 120v7M387 121.5h7M390.5 118v7M387 122.5h7M390.5 119v7M388 124.5h7M391.5 121v7M388 121.5h7M391.5 118v7M388 122.5h7M391.5 119v7M389 123.5h7M392.5 120v7M389 124.5h7M392.5 121v7M389 119.5h7M392.5 116v7M389 118.5h7M392.5 115v7M389 120.5h7M392.5 117v7M390 123.5h7M393.5 120v7M390 125.5h7M393.5 122v7M390 121.5h7M393.5 118v7M390 120.5h7M393.5 117v7M391 121.5h7M394.5 118v7M391 123.5h7M394.5 120v7M391 124.5h7M394.5 121v7M392 121.5h7M395.5 118v7M392 119.5h7M395.5 116v7M392 120.5h7M395.5 117v7M393 122.5h7M396.5 119v7M393 121.5h7M396.5 118v7M394 120.5h7M397.5 117v7M394 123.5h7M397.5 120v7M394 119.5h7M397.5 116v7M394 124.5h7M397.5 121v7M395 122.5h7M398.5 119v7M395 123.5h7M398.5 120v7M395 121.5h7M398.5 118v7M396 120.5h7M399.5 117v7M396 121.5h7M399.5 118v7M397 122.5h7M400.5 119v7M397 121.5h7M400.5 118v7M397 120.5h7M400.5 117v7M397 123.5h7M400.5 120v7M398 119.5h7M401.5 116v7M398 124.5h7M401.5 121v7M398 122.5h7M401.5 119v7M398 123.5h7M401.5 120v7M399 120.5h7M402.5 117v7M399 121.5h7M402.5 118v7M399 122.5h7M402.5 119v7M400 119.5h7M403.5 116v7M400 121.5h7M403.5 118v7M400 123.5h7M403.5 120v7M400 124.5h7M403.5 121v7M401 121.5h7M404.5 118v7M401 123.5h7M404.5 120v7M402 122.5h7M405.5 119v7M402 120.5h7M405.5 117v7M402 121.5h7M405.5 118v7M402 123.5h7M405.5 120v7M403 123.5h7M406.5 120v7M403 122.5h7M406.5 119v7M403 119.5h7M406.5 116v7M404 120.5h7M407.5 117v7M404 119.5h7M407.5 116v7M405 122.5h7M408.5 119v7M405 121.5h7M408.5 118v7M405 120.5h7M408.5 117v7M406 122.5h7M409.5 119v7M406 121.5h7M409.5 118v7M407 120.5h7M410.5 117v7M407 122.5h7M410.5 119v7M407 123.5h7M410.5 120v7M407 121.5h7M410.5 118v7M408 122.5h7M411.5 119v7M408 120.5h7M411.5 117v7M408 123.5h7M411.5 120v7M409 121.5h7M412.5 118v7M409 119.5h7M412.5 116v7M410 120.5h7M413.5 117v7M410 119.5h7M413.5 116v7M410 121.5h7M413.5 118v7M410 122.5h7M413.5 119v7M411 123.5h7M414.5 120v7M411 121.5h7M414.5 118v7M411 120.5h7M414.5 117v7M411 125.5h7M414.5 122v7M412 123.5h7M415.5 120v7M412 120.5h7M415.5 117v7M412 122.5h7M415.5 119v7M413 120.5h7M416.5 117v7M413 125.5h7M416.5 122v7M413 122.5h7M416.5 119v7M414 121.5h7M417.5 118v7M414 122.5h7M417.5 119v7M415 123.5h7M418.5 120v7M415 125.5h7M418.5 122v7M415 122.5h7M418.5 119v7M415 121.5h7M418.5 118v7M416 124.5h7M419.5 121v7M416 122.5h7M419.5 119v7M416 125.5h7M419.5 122v7M416 121.5h7M419.5 118v7M417 121.5h7M420.5 118v7M417 119.5h7M420.5 116v7M417 123.5h7M420.5 120v7M418 120.5h7M421.5 117v7M418 121.5h7M421.5 118v7M418 123.5h7M421.5 120v7M418 124.5h7M421.5 121v7M419 123.5h7M422.5 120v7M419 118.5h7M422.5 115v7M419 122.5h7M422.5 119v7M420 118.5h7M423.5 115v7M420 120.5h7M423.5 117v7M420 123.5h7M423.5 120v7M420 119.5h7M423.5 116v7M421 120.5h7M424.5 117v7M421 121.5h7M424.5 118v7M421 124.5h7M424.5 121v7M421 123.5h7M424.5 120v7M421 119.5h7M424.5 116v7M422 122.5h7M425.5 119v7M422 123.5h7M425.5 120v7M422 121.5h7M425.5 118v7M423 123.5h7M426.5 120v7M423 118.5h7M426.5 115v7M423 119.5h7M426.5 116v7M423 122.5h7M426.5 119v7M424 122.5h7M427.5 119v7M424 121.5h7M427.5 118v7M424 123.5h7M427.5 120v7M425 121.5h7M428.5 118v7M425 122.5h7M428.5 119v7M425 120.5h7M428.5 117v7M426 123.5h7M429.5 120v7M426 122.5h7M429.5 119v7M426 120.5h7M429.5 117v7M427 122.5h7M430.5 119v7M427 124.5h7M430.5 121v7M427 121.5h7M430.5 118v7M428 122.5h7M431.5 119v7M428 123.5h7M431.5 120v7M428 125.5h7M431.5 122v7M428 121.5h7M431.5 118v7M429 124.5h7M432.5 121v7M429 122.5h7M432.5 119v7M429 121.5h7M432.5 118v7M429 123.5h7M432.5 120v7M430 121.5h7M433.5 118v7M430 123.5h7M433.5 120v7M431 121.5h7M434.5 118v7M431 125.5h7M434.5 122v7M431 122.5h7M434.5 119v7M431 123.5h7M434.5 120v7M432 122.5h7M435.5 119v7M432 124.5h7M435.5 121v7M432 125.5h7M435.5 122v7M432 123.5h7M435.5 120v7M433 121.5h7M436.5 118v7M433 123.5h7M436.5 120v7M434 122.5h7M437.5 119v7M434 120.5h7M437.5 117v7M434 126.5h7M437.5 123v7M435 124.5h7M438.5 121v7M435 121.5h7M438.5 118v7M435 120.5h7M438.5 117v7M435 122.5h7M438.5 119v7M436 121.5h7M439.5 118v7M436 122.5h7M439.5 119v7M436 123.5h7M439.5 120v7M436 126.5h7M439.5 123v7M437 126.5h7M440.5 123v7M437 123.5h7M440.5 120v7M437 124.5h7M440.5 121v7M438 127.5h7M441.5 124v7M438 122.5h7M441.5 119v7M438 121.5h7M441.5 118v7M439 124.5h7M442.5 121v7M439 125.5h7M442.5 122v7M439 122.5h7M442.5 119v7M439 123.5h7M442.5 120v7M440 124.5h7M443.5 121v7M440 123.5h7M443.5 120v7M441 123.5h7M444.5 120v7M441 125.5h7M444.5 122v7M441 124.5h7M444.5 121v7M441 122.5h7M444.5 119v7M442 122.5h7M445.5 119v7M442 123.5h7M445.5 120v7M442 127.5h7M445.5 124v7M442 126.5h7M445.5 123v7M443 123.5h7M446.5 120v7M443 125.5h7M446.5 122v7M443 126.5h7M446.5 123v7M444 119.5h7M447.5 116v7M444 124.5h7M447.5 121v7M444 120.5h7M447.5 117v7M444 121.5h7M447.5 118v7M445 119.5h7M448.5 116v7M445 121.5h7M448.5 118v7M445 122.5h7M448.5 119v7M446 125.5h7M449.5 122v7M446 123.5h7M449.5 120v7M446 120.5h7M449.5 117v7M446 122.5h7M449.5 119v7M447 120.5h7M450.5 117v7M447 119.5h7M450.5 116v7M447 122.5h7M450.5 119v7M448 121.5h7M451.5 118v7M448 123.5h7M451.5 120v7M448 120.5h7M451.5 117v7M449 121.5h7M452.5 118v7M449 123.5h7M452.5 120v7M449 122.5h7M452.5 119v7M450 121.5h7M453.5 118v7M450 122.5h7M453.5 119v7M450 120.5h7M453.5 117v7M450 123.5h7M453.5 120v7M451 122.5h7M454.5 119v7M451 121.5h7M454.5 118v7M451 120.5h7M454.5 117v7M452 121.5h7M455.5 118v7M452 122.5h7M455.5 119v7M452 124.5h7M455.5 121v7M452 120.5h7M455.5 117v7M453 124.5h7M456.5 121v7M453 118.5h7M456.5 115v7M453 122.5h7M456.5 119v7M453 121.5h7M456.5 118v7M454 121.5h7M457.5 118v7M454 123.5h7M457.5 120v7M454 122.5h7M457.5 119v7M454 124.5h7M457.5 121v7M455 127.5h7M458.5 124v7M455 120.5h7M458.5 117v7M455 123.5h7M458.5 120v7M455 121.5h7M458.5 118v7M456 127.5h7M459.5 124v7M456 119.5h7M459.5 116v7M456 124.5h7M459.5 121v7M456 123.5h7M459.5 120v7M457 122.5h7M460.5 119v7M457 123.5h7M460.5 120v7M457 125.5h7M460.5 122v7M458 123.5h7M461.5 120v7M458 121.5h7M461.5 118v7M458 122.5h7M461.5 119v7M458 125.5h7M461.5 122v7M459 124.5h7M462.5 121v7M460 121.5h7M463.5 118v7M460 125.5h7M463.5 122v7M460 122.5h7M463.5 119v7M460 119.5h7M463.5 116v7M461 125.5h7M464.5 122v7M461 124.5h7M464.5 121v7M461 123.5h7M464.5 120v7M461 121.5h7M464.5 118v7M462 124.5h7M465.5 121v7M462 123.5h7M465.5 120v7M463 124.5h7M466.5 121v7M463 123.5h7M466.5 120v7M463 125.5h7M466.5 122v7M463 121.5h7M466.5 118v7M464 123.5h7M467.5 120v7M464 122.5h7M467.5 119v7M464 121.5h7M467.5 118v7M465 120.5h7M468.5 117v7M465 121.5h7M468.5 118v7M465 122.5h7M468.5 119v7M465 118.5h7M468.5 115v7M465 119.5h7M468.5 116v7M466 121.5h7M469.5 118v7M466 120.5h7M469.5 117v7M466 119.5h7M469.5 116v7M467 124.5h7M470.5 121v7M467 118.5h7M470.5 115v7M467 120.5h7M470.5 117v7M468 119.5h7M471.5 116v7M468 122.5h7M471.5 119v7M468 120.5h7M471.5 117v7M469 122.5h7M472.5 119v7M469 118.5h7M472.5 115v7M469 117.5h7M472.5 114v7M470 120.5h7M473.5 117v7M470 119.5h7M473.5 116v7M470 113.5h7M473.5 110v7M471 118.5h7M474.5 115v7M471 119.5h7M474.5 116v7M471 123.5h7M474.5 120v7M472 118.5h7M475.5 115v7M472 119.5h7M475.5 116v7M472 120.5h7M475.5 117v7M472 121.5h7M475.5 118v7M473 119.5h7M476.5 116v7M473 122.5h7M476.5 119v7M473 120.5h7M476.5 117v7M474 117.5h7M477.5 114v7M474 122.5h7M477.5 119v7M474 120.5h7M477.5 117v7M474 124.5h7M477.5 121v7M475 117.5h7M478.5 114v7M475 123.5h7M478.5 120v7M475 119.5h7M478.5 116v7M475 121.5h7M478.5 118v7M476 121.5h7M479.5 118v7M476 118.5h7M479.5 115v7M476 117.5h7M479.5 114v7M476 122.5h7M479.5 119v7M477 122.5h7M480.5 119v7M477 118.5h7M480.5 115v7M477 120.5h7M480.5 117v7M478 122.5h7M481.5 119v7M478 120.5h7M481.5 117v7M478 118.5h7M481.5 115v7M478 119.5h7M481.5 116v7M479 122.5h7M482.5 119v7M479 121.5h7M482.5 118v7M479 120.5h7M482.5 117v7M479 124.5h7M482.5 121v7M480 124.5h7M483.5 121v7M480 122.5h7M483.5 119v7M480 123.5h7M483.5 120v7M481 119.5h7M484.5 116v7M481 124.5h7M484.5 121v7M481 121.5h7M484.5 118v7M481 123.5h7M484.5 120v7M481 122.5h7M484.5 119v7M482 119.5h7M485.5 116v7M482 122.5h7M485.5 119v7M482 121.5h7M485.5 118v7M482 125.5h7M485.5 122v7M483 124.5h7M486.5 121v7M483 119.5h7M486.5 116v7M483 122.5h7M486.5 119v7M484 120.5h7M487.5 117v7M484 122.5h7M487.5 119v7M484 121.5h7M487.5 118v7M484 123.5h7M487.5 120v7M485 120.5h7M488.5 117v7M485 119.5h7M488.5 116v7M485 122.5h7M488.5 119v7M486 118.5h7M489.5 115v7M486 121.5h7M489.5 118v7M486 122.5h7M489.5 119v7M487 122.5h7M490.5 119v7M487 121.5h7M490.5 118v7M487 119.5h7M490.5 116v7M487 123.5h7M490.5 120v7M488 121.5h7M491.5 118v7M488 119.5h7M491.5 116v7M488 118.5h7M491.5 115v7M489 121.5h7M492.5 118v7M489 122.5h7M492.5 119v7M489 120.5h7M492.5 117v7M489 118.5h7M492.5 115v7M490 120.5h7M493.5 117v7M490 124.5h7M493.5 121v7M490 121.5h7M493.5 118v7M490 122.5h7M493.5 119v7M491 124.5h7M494.5 121v7M491 122.5h7M494.5 119v7M492 120.5h7M495.5 117v7M492 118.5h7M495.5 115v7M492 119.5h7M495.5 116v7M493 120.5h7M496.5 117v7M493 119.5h7M496.5 116v7M493 121.5h7M496.5 118v7M493 122.5h7M496.5 119v7M494 119.5h7M497.5 116v7M494 121.5h7M497.5 118v7M494 120.5h7M497.5 117v7M494 122.5h7M497.5 119v7M495 123.5h7M498.5 120v7M495 120.5h7M498.5 117v7M495 121.5h7M498.5 118v7M495 122.5h7M498.5 119v7M496 120.5h7M499.5 117v7M496 121.5h7M499.5 118v7M496 122.5h7M499.5 119v7M497 119.5h7M500.5 116v7M497 121.5h7M500.5 118v7M497 120.5h7M500.5 117v7M497 122.5h7M500.5 119v7M498 120.5h7M501.5 117v7M498 119.5h7M501.5 116v7M498 118.5h7M501.5 115v7M499 122.5h7M502.5 119v7M499 121.5h7M502.5 118v7M500 119.5h7M503.5 116v7M500 121.5h7M503.5 118v7M500 123.5h7M503.5 120v7M500 120.5h7M503.5 117v7M500 122.5h7M503.5 119v7M501 122.5h7M504.5 119v7M501 120.5h7M504.5 117v7M501 119.5h7M504.5 116v7M502 120.5h7M505.5 117v7M502 122.5h7M505.5 119v7M502 124.5h7M505.5 121v7M502 118.5h7M505.5 115v7M503 120.5h7M506.5 117v7M503 118.5h7M506.5 115v7M503 123.5h7M506.5 120v7M504 120.5h7M507.5 117v7M504 121.5h7M507.5 118v7M504 118.5h7M507.5 115v7M505 123.5h7M508.5 120v7M505 121.5h7M508.5 118v7M505 122.5h7M508.5 119v7M505 119.5h7M508.5 116v7M505 120.5h7M508.5 117v7M506 121.5h7M509.5 118v7M506 119.5h7M509.5 116v7M506 120.5h7M509.5 117v7M507 121.5h7M510.5 118v7M507 118.5h7M510.5 115v7M508 118.5h7M511.5 115v7M508 120.5h7M511.5 117v7M508 122.5h7M511.5 119v7M508 119.5h7M511.5 116v7M509 119.5h7M512.5 116v7M509 122.5h7M512.5 119v7M509 120.5h7M512.5 117v7M509 118.5h7M512.5 115v7M510 121.5h7M513.5 118v7M510 120.5h7M513.5 117v7M510 119.5h7M513.5 116v7M510 122.5h7M513.5 119v7M511 118.5h7M514.5 115v7M511 122.5h7M514.5 119v7M511 120.5h7M514.5 117v7M511 123.5h7M514.5 120v7M512 123.5h7M515.5 120v7M512 120.5h7M515.5 117v7M513 119.5h7M516.5 116v7M513 122.5h7M516.5 119v7M513 124.5h7M516.5 121v7M514 123.5h7M517.5 120v7M514 120.5h7M517.5 117v7M514 121.5h7M517.5 118v7M514 124.5h7M517.5 121v7M515 121.5h7M518.5 118v7M515 120.5h7M518.5 117v7M516 119.5h7M519.5 116v7M516 123.5h7M519.5 120v7M516 121.5h7M519.5 118v7M516 120.5h7M519.5 117v7M517 124.5h7M520.5 121v7M517 123.5h7M520.5 120v7M517 122.5h7M520.5 119v7M518 122.5h7M521.5 119v7M518 120.5h7M521.5 117v7M518 119.5h7M521.5 116v7M518 123.5h7M521.5 120v7M519 122.5h7M522.5 119v7M520 121.5h7M523.5 118v7M520 123.5h7M523.5 120v7M520 119.5h7M523.5 116v7M521 124.5h7M524.5 121v7M521 120.5h7M524.5 117v7M521 119.5h7M524.5 116v7M521 121.5h7M524.5 118v7M521 123.5h7M524.5 120v7M522 121.5h7M525.5 118v7M522 123.5h7M525.5 120v7M522 120.5h7M525.5 117v7M523 120.5h7M526.5 117v7M523 124.5h7M526.5 121v7M523 122.5h7M526.5 119v7M523 123.5h7M526.5 120v7M524 123.5h7M527.5 120v7M524 122.5h7M527.5 119v7M524 439.5h7M527.5 436v7M524 125.5h7M527.5 122v7M525 121.5h7M528.5 118v7M525 122.5h7M528.5 119v7M526 123.5h7M529.5 120v7M526 122.5h7M529.5 119v7M526 124.5h7M529.5 121v7M526 121.5h7M529.5 118v7M527 122.5h7M530.5 119v7M527 121.5h7M530.5 118v7M528 121.5h7M531.5 118v7M528 119.5h7M531.5 116v7M528 120.5h7M531.5 117v7M529 121.5h7M532.5 118v7M529 120.5h7M532.5 117v7M529 124.5h7M532.5 121v7M529 122.5h7M532.5 119v7M529 123.5h7M532.5 120v7M530 123.5h7M533.5 120v7M530 121.5h7M533.5 118v7M530 119.5h7M533.5 116v7M531 121.5h7M534.5 118v7M531 124.5h7M534.5 121v7M531 120.5h7M534.5 117v7M532 121.5h7M535.5 118v7M532 122.5h7M535.5 119v7M532 125.5h7M535.5 122v7M533 123.5h7M536.5 120v7M533 122.5h7M536.5 119v7M534 121.5h7M537.5 118v7M534 120.5h7M537.5 117v7M534 124.5h7M537.5 121v7M535 123.5h7M538.5 120v7M536 125.5h7M539.5 122v7M536 121.5h7M539.5 118v7M536 123.5h7M539.5 120v7M536 122.5h7M539.5 119v7M537 121.5h7M540.5 118v7M537 123.5h7M540.5 120v7M537 122.5h7M540.5 119v7M538 122.5h7M541.5 119v7M538 123.5h7M541.5 120v7M538 124.5h7M541.5 121v7M539 124.5h7M542.5 121v7M539 123.5h7M542.5 120v7M540 123.5h7M543.5 120v7M540 124.5h7M543.5 121v7M541 124.5h7M544.5 121v7M541 123.5h7M544.5 120v7M542 124.5h7M545.5 121v7M542 125.5h7M545.5 122v7M542 122.5h7M545.5 119v7M543 123.5h7M546.5 120v7M543 120.5h7M546.5 117v7M543 122.5h7M546.5 119v7M543 124.5h7M546.5 121v7M544 123.5h7M547.5 120v7M544 121.5h7M547.5 118v7M545 121.5h7M548.5 118v7M545 119.5h7M548.5 116v7M545 125.5h7M548.5 122v7M545 122.5h7M548.5 119v7M545 118.5h7M548.5 115v7M546 120.5h7M549.5 117v7M546 119.5h7M549.5 116v7M546 121.5h7M549.5 118v7M547 119.5h7M550.5 116v7M547 123.5h7M550.5 120v7M547 120.5h7M550.5 117v7M547 122.5h7M550.5 119v7M548 118.5h7M551.5 115v7M548 119.5h7M551.5 116v7M548 123.5h7M551.5 120v7M549 123.5h7M552.5 120v7M549 120.5h7M552.5 117v7M550 123.5h7M553.5 120v7M550 124.5h7M553.5 121v7M550 119.5h7M553.5 116v7M551 121.5h7M554.5 118v7M551 123.5h7M554.5 120v7M551 124.5h7M554.5 121v7M552 121.5h7M555.5 118v7M552 122.5h7M555.5 119v7M552 125.5h7M555.5 122v7M553 122.5h7M556.5 119v7M553 124.5h7M556.5 121v7M553 126.5h7M556.5 123v7M553 121.5h7M556.5 118v7M553 120.5h7M556.5 117v7M554 123.5h7M557.5 120v7M554 122.5h7M557.5 119v7M555 125.5h7M558.5 122v7M555 123.5h7M558.5 120v7M555 120.5h7M558.5 117v7M555 124.5h7M558.5 121v7M556 125.5h7M559.5 122v7M556 126.5h7M559.5 123v7"/>
<path d="M145 74.5h45M164 74.5h7M167.5 71v7"/>
</g>
<g fill="none" stroke="#000" stroke-width="1" shape-rendering="crispEdges">
<rect x="65.5" y="60.5" width="544" height="379"/>
<path d="M66 439.5h4M609 439.5h-4M66 385.5h4M609 385.5h-4M66 331.5h4M609 331.5h-4M66 277.5h4M609 277.5h-4M66 222.5h4M609 222.5h-4M66 168.5h4M609 168.5h-4M66 114.5h4M609 114.5h-4M66 60.5h4M609 60.5h-4M65.5 439v-4M65.5 61v4M80.5 439v-2M80.5 61v2M95.5 439v-2M95.5 61v2M110.5 439v-2M110.5 61v2M125.5 439v-4M125.5 61v4M140.5 439v-2M140.5 61v2M156.5 439v-2M156.5 61v2M171.5 439v-2M171.5 61v2M186.5 439v-4M186.5 61v4M201.5 439v-2M201.5 61v2M216.5 439v-2M216.5 61v2M231.5 439v-2M231.5 61v2M246.5 439v-4M246.5 61v4M261.5 439v-2M261.5 61v2M276.5 439v-2M276.5 61v2M292.5 439v-2M292.5 61v2M307.5 439v-4M307.5 61v4M322.5 439v-2M322.5 61v2M337.5 439v-2M337.5 61v2M352.5 439v-2M352.5 61v2M367.5 439v-4M367.5 61v4M382.5 439v-2M382.5 61v2M397.5 439v-2M397.5 61v2M413.5 439v-2M413.5 61v2M428.5 439v-4M428.5 61v4M443.5 439v-2M443.5 61v2M458.5 439v-2M458.5 61v2M473.5 439v-2M473.5 61v2M488.5 439v-4M488.5 61v4M503.5 439v-2M503.5 61v2M518.5 439v-2M518.5 61v2M533.5 439v-2M533.5 61v2M549.5 439v-4M549.5 61v4M563.5 439v-2M563.5 61v2M579.5 439v-2M579.5 61v2M594.5 439v-2M594.5 61v2M609.5 439v-4M609.5 61v4"/>
</g>
<g font-family="'DejaVu Sans','Liberation Sans',sans-serif" font-size="15" fill="#000" style="font-kerning:none;text-rendering:geometricPrecision">
<text transform="translate(0,35) scale(1,1.07)" font-size="14" x="251.45 261.15 269.5 277.85 283.85 287.35 300.85 309.5 313.8 317.25 326 330.0 337.5 342.05 347.8 356.1" y="0">Runtime in s for</text>
<text x="366.7 375.6 384.5 394.0 404.6 410.1" y="35">3SAT-1</text>
<text transform="translate(0,79) scale(1,1.0)" x="74.7 83.6 92.5 102.0 112.6 118.1" y="0">3SAT-1</text>
<text transform="translate(42.0,444) scale(1,1.0)">0</text>
<text transform="translate(42.0,390) scale(1,1.0)">1</text>
<text transform="translate(42.0,336) scale(1,1.0)">2</text>
<text transform="translate(42.0,282) scale(1,1.0)">3</text>
<text transform="translate(42.0,227) scale(1,1.0)">4</text>
<text transform="translate(42.0,173) scale(1,1.0)">5</text>
<text transform="translate(42.0,119) scale(1,1.0)">6</text>
<text transform="translate(42.0,65) scale(1,1.0)">7</text>
<text transform="translate(0,464) scale(1,1.0)" x="30.1 39.4 49.0 54.1 63.6 73.1 78.8 87.8" y="0">01/01/15</text>
<text transform="translate(0,464) scale(1,1.0)" x="90.5 99.8 109.4 114.5 124.0 133.5 139.2 148.2" y="0">01/01/16</text>
<text transform="translate(0,464) scale(1,1.0)" x="151.1 160.4 170.0 175.1 184.6 194.1 199.8 208.8" y="0">01/01/17</text>
<text transform="translate(0,464) scale(1,1.0)" x="211.5 220.8 230.4 235.5 245.0 254.5 260.2 269.2" y="0">01/01/18</text>
<text transform="translate(0,464) scale(1,1.0)" x="271.9 281.2 290.8 295.9 305.4 314.9 320.6 329.6" y="0">01/01/19</text>
<text transform="translate(0,464) scale(1,1.0)" x="332.3 341.6 351.2 356.3 365.8 375.3 381.0 390.0" y="0">01/01/20</text>
<text transform="translate(0,464) scale(1,1.0)" x="392.9 402.2 411.8 416.9 426.4 435.9 441.6 450.6" y="0">01/01/21</text>
<text transform="translate(0,464) scale(1,1.0)" x="453.3 462.6 472.2 477.3 486.8 496.3 502.0 511.0" y="0">01/01/22</text>
<text transform="translate(0,464) scale(1,1.0)" x="513.7 523.0 532.6 537.7 547.2 556.7 562.4 571.4" y="0">01/01/23</text>
<text transform="translate(0,464) scale(1,1.0)" x="574.1 583.4 593.0 598.1 607.6 617.1 622.8 631.8" y="0">01/01/24</text>
<text transform="translate(19.8,254.8) rotate(-90) scale(1,1.07)" font-size="14">s</text>
</g>
</svg>
</body></html>
